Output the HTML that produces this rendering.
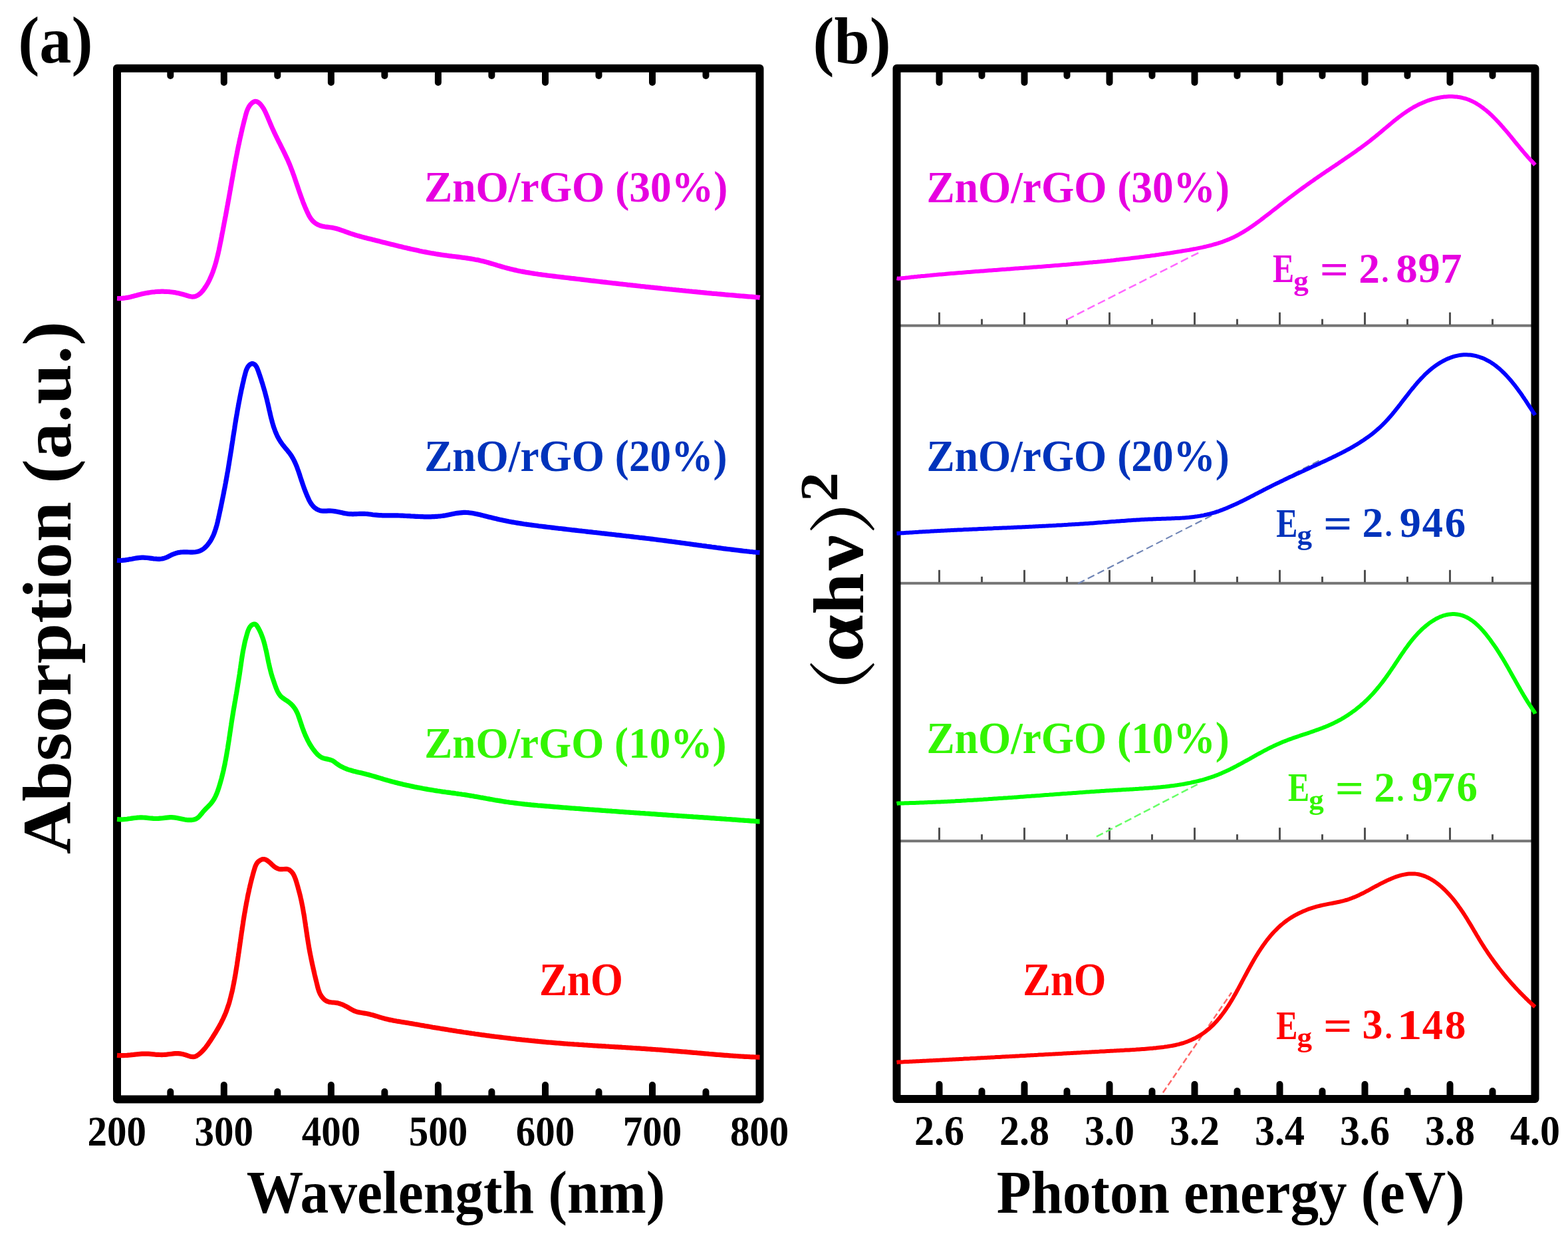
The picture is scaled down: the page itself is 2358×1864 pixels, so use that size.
<!DOCTYPE html>
<html><head><meta charset="utf-8"><style>html,body{margin:0;padding:0;background:#fff;width:2358px;height:1864px;overflow:hidden}svg{display:block;filter:blur(0.7px)}</style></head><body>
<svg xmlns="http://www.w3.org/2000/svg" width="2358" height="1864" viewBox="0 0 2358 1864" font-family='"Liberation Serif", "Times New Roman", serif' font-weight="bold">
<rect width="100%" height="100%" fill="#fff"/>
<line x1="1354" y1="489.6" x2="2303" y2="489.6" stroke="#747474" stroke-width="4"/>
<line x1="1412.5" y1="488.1" x2="1412.5" y2="469.6" stroke="#505050" stroke-width="3"/>
<line x1="1476.5" y1="488.1" x2="1476.5" y2="479.6" stroke="#505050" stroke-width="3"/>
<line x1="1540.5" y1="488.1" x2="1540.5" y2="469.6" stroke="#505050" stroke-width="3"/>
<line x1="1604.5" y1="488.1" x2="1604.5" y2="479.6" stroke="#505050" stroke-width="3"/>
<line x1="1668.5" y1="488.1" x2="1668.5" y2="469.6" stroke="#505050" stroke-width="3"/>
<line x1="1732.5" y1="488.1" x2="1732.5" y2="479.6" stroke="#505050" stroke-width="3"/>
<line x1="1796.5" y1="488.1" x2="1796.5" y2="469.6" stroke="#505050" stroke-width="3"/>
<line x1="1860.5" y1="488.1" x2="1860.5" y2="479.6" stroke="#505050" stroke-width="3"/>
<line x1="1924.5" y1="488.1" x2="1924.5" y2="469.6" stroke="#505050" stroke-width="3"/>
<line x1="1988.5" y1="488.1" x2="1988.5" y2="479.6" stroke="#505050" stroke-width="3"/>
<line x1="2052.5" y1="488.1" x2="2052.5" y2="469.6" stroke="#505050" stroke-width="3"/>
<line x1="2116.5" y1="488.1" x2="2116.5" y2="479.6" stroke="#505050" stroke-width="3"/>
<line x1="2180.5" y1="488.1" x2="2180.5" y2="469.6" stroke="#505050" stroke-width="3"/>
<line x1="2244.5" y1="488.1" x2="2244.5" y2="479.6" stroke="#505050" stroke-width="3"/>
<line x1="1354" y1="876.8" x2="2303" y2="876.8" stroke="#747474" stroke-width="4"/>
<line x1="1412.5" y1="875.3" x2="1412.5" y2="856.8" stroke="#505050" stroke-width="3"/>
<line x1="1476.5" y1="875.3" x2="1476.5" y2="866.8" stroke="#505050" stroke-width="3"/>
<line x1="1540.5" y1="875.3" x2="1540.5" y2="856.8" stroke="#505050" stroke-width="3"/>
<line x1="1604.5" y1="875.3" x2="1604.5" y2="866.8" stroke="#505050" stroke-width="3"/>
<line x1="1668.5" y1="875.3" x2="1668.5" y2="856.8" stroke="#505050" stroke-width="3"/>
<line x1="1732.5" y1="875.3" x2="1732.5" y2="866.8" stroke="#505050" stroke-width="3"/>
<line x1="1796.5" y1="875.3" x2="1796.5" y2="856.8" stroke="#505050" stroke-width="3"/>
<line x1="1860.5" y1="875.3" x2="1860.5" y2="866.8" stroke="#505050" stroke-width="3"/>
<line x1="1924.5" y1="875.3" x2="1924.5" y2="856.8" stroke="#505050" stroke-width="3"/>
<line x1="1988.5" y1="875.3" x2="1988.5" y2="866.8" stroke="#505050" stroke-width="3"/>
<line x1="2052.5" y1="875.3" x2="2052.5" y2="856.8" stroke="#505050" stroke-width="3"/>
<line x1="2116.5" y1="875.3" x2="2116.5" y2="866.8" stroke="#505050" stroke-width="3"/>
<line x1="2180.5" y1="875.3" x2="2180.5" y2="856.8" stroke="#505050" stroke-width="3"/>
<line x1="2244.5" y1="875.3" x2="2244.5" y2="866.8" stroke="#505050" stroke-width="3"/>
<line x1="1354" y1="1264.2" x2="2303" y2="1264.2" stroke="#747474" stroke-width="4"/>
<line x1="1412.5" y1="1262.7" x2="1412.5" y2="1244.2" stroke="#505050" stroke-width="3"/>
<line x1="1476.5" y1="1262.7" x2="1476.5" y2="1254.2" stroke="#505050" stroke-width="3"/>
<line x1="1540.5" y1="1262.7" x2="1540.5" y2="1244.2" stroke="#505050" stroke-width="3"/>
<line x1="1604.5" y1="1262.7" x2="1604.5" y2="1254.2" stroke="#505050" stroke-width="3"/>
<line x1="1668.5" y1="1262.7" x2="1668.5" y2="1244.2" stroke="#505050" stroke-width="3"/>
<line x1="1732.5" y1="1262.7" x2="1732.5" y2="1254.2" stroke="#505050" stroke-width="3"/>
<line x1="1796.5" y1="1262.7" x2="1796.5" y2="1244.2" stroke="#505050" stroke-width="3"/>
<line x1="1860.5" y1="1262.7" x2="1860.5" y2="1254.2" stroke="#505050" stroke-width="3"/>
<line x1="1924.5" y1="1262.7" x2="1924.5" y2="1244.2" stroke="#505050" stroke-width="3"/>
<line x1="1988.5" y1="1262.7" x2="1988.5" y2="1254.2" stroke="#505050" stroke-width="3"/>
<line x1="2052.5" y1="1262.7" x2="2052.5" y2="1244.2" stroke="#505050" stroke-width="3"/>
<line x1="2116.5" y1="1262.7" x2="2116.5" y2="1254.2" stroke="#505050" stroke-width="3"/>
<line x1="2180.5" y1="1262.7" x2="2180.5" y2="1244.2" stroke="#505050" stroke-width="3"/>
<line x1="2244.5" y1="1262.7" x2="2244.5" y2="1254.2" stroke="#505050" stroke-width="3"/>
<path d="M176,102.8 H1142.5 V1652.6 H176 Z" fill="none" stroke="#000" stroke-width="12" stroke-linejoin="round"/>
<path d="M1348.5,102.8 H2308.5 V1652 H1348.5 Z" fill="none" stroke="#000" stroke-width="12" stroke-linejoin="round"/>
<line x1="256.3" y1="105" x2="256.3" y2="114.0" stroke="#000" stroke-width="10" stroke-linecap="round"/>
<line x1="256.3" y1="1650" x2="256.3" y2="1641.0" stroke="#000" stroke-width="10" stroke-linecap="round"/>
<line x1="336.8" y1="105" x2="336.8" y2="124.0" stroke="#000" stroke-width="10" stroke-linecap="round"/>
<line x1="336.8" y1="1650" x2="336.8" y2="1631.0" stroke="#000" stroke-width="10" stroke-linecap="round"/>
<line x1="417.3" y1="105" x2="417.3" y2="114.0" stroke="#000" stroke-width="10" stroke-linecap="round"/>
<line x1="417.3" y1="1650" x2="417.3" y2="1641.0" stroke="#000" stroke-width="10" stroke-linecap="round"/>
<line x1="497.9" y1="105" x2="497.9" y2="124.0" stroke="#000" stroke-width="10" stroke-linecap="round"/>
<line x1="497.9" y1="1650" x2="497.9" y2="1631.0" stroke="#000" stroke-width="10" stroke-linecap="round"/>
<line x1="578.4" y1="105" x2="578.4" y2="114.0" stroke="#000" stroke-width="10" stroke-linecap="round"/>
<line x1="578.4" y1="1650" x2="578.4" y2="1641.0" stroke="#000" stroke-width="10" stroke-linecap="round"/>
<line x1="658.9" y1="105" x2="658.9" y2="124.0" stroke="#000" stroke-width="10" stroke-linecap="round"/>
<line x1="658.9" y1="1650" x2="658.9" y2="1631.0" stroke="#000" stroke-width="10" stroke-linecap="round"/>
<line x1="739.4" y1="105" x2="739.4" y2="114.0" stroke="#000" stroke-width="10" stroke-linecap="round"/>
<line x1="739.4" y1="1650" x2="739.4" y2="1641.0" stroke="#000" stroke-width="10" stroke-linecap="round"/>
<line x1="820.0" y1="105" x2="820.0" y2="124.0" stroke="#000" stroke-width="10" stroke-linecap="round"/>
<line x1="820.0" y1="1650" x2="820.0" y2="1631.0" stroke="#000" stroke-width="10" stroke-linecap="round"/>
<line x1="900.5" y1="105" x2="900.5" y2="114.0" stroke="#000" stroke-width="10" stroke-linecap="round"/>
<line x1="900.5" y1="1650" x2="900.5" y2="1641.0" stroke="#000" stroke-width="10" stroke-linecap="round"/>
<line x1="981.0" y1="105" x2="981.0" y2="124.0" stroke="#000" stroke-width="10" stroke-linecap="round"/>
<line x1="981.0" y1="1650" x2="981.0" y2="1631.0" stroke="#000" stroke-width="10" stroke-linecap="round"/>
<line x1="1061.5" y1="105" x2="1061.5" y2="114.0" stroke="#000" stroke-width="10" stroke-linecap="round"/>
<line x1="1061.5" y1="1650" x2="1061.5" y2="1641.0" stroke="#000" stroke-width="10" stroke-linecap="round"/>
<line x1="1412.5" y1="105" x2="1412.5" y2="124.0" stroke="#000" stroke-width="10" stroke-linecap="round"/>
<line x1="1412.5" y1="1649" x2="1412.5" y2="1630.0" stroke="#000" stroke-width="10" stroke-linecap="round"/>
<line x1="1476.5" y1="105" x2="1476.5" y2="114.0" stroke="#000" stroke-width="10" stroke-linecap="round"/>
<line x1="1476.5" y1="1649" x2="1476.5" y2="1640.0" stroke="#000" stroke-width="10" stroke-linecap="round"/>
<line x1="1540.5" y1="105" x2="1540.5" y2="124.0" stroke="#000" stroke-width="10" stroke-linecap="round"/>
<line x1="1540.5" y1="1649" x2="1540.5" y2="1630.0" stroke="#000" stroke-width="10" stroke-linecap="round"/>
<line x1="1604.5" y1="105" x2="1604.5" y2="114.0" stroke="#000" stroke-width="10" stroke-linecap="round"/>
<line x1="1604.5" y1="1649" x2="1604.5" y2="1640.0" stroke="#000" stroke-width="10" stroke-linecap="round"/>
<line x1="1668.5" y1="105" x2="1668.5" y2="124.0" stroke="#000" stroke-width="10" stroke-linecap="round"/>
<line x1="1668.5" y1="1649" x2="1668.5" y2="1630.0" stroke="#000" stroke-width="10" stroke-linecap="round"/>
<line x1="1732.5" y1="105" x2="1732.5" y2="114.0" stroke="#000" stroke-width="10" stroke-linecap="round"/>
<line x1="1732.5" y1="1649" x2="1732.5" y2="1640.0" stroke="#000" stroke-width="10" stroke-linecap="round"/>
<line x1="1796.5" y1="105" x2="1796.5" y2="124.0" stroke="#000" stroke-width="10" stroke-linecap="round"/>
<line x1="1796.5" y1="1649" x2="1796.5" y2="1630.0" stroke="#000" stroke-width="10" stroke-linecap="round"/>
<line x1="1860.5" y1="105" x2="1860.5" y2="114.0" stroke="#000" stroke-width="10" stroke-linecap="round"/>
<line x1="1860.5" y1="1649" x2="1860.5" y2="1640.0" stroke="#000" stroke-width="10" stroke-linecap="round"/>
<line x1="1924.5" y1="105" x2="1924.5" y2="124.0" stroke="#000" stroke-width="10" stroke-linecap="round"/>
<line x1="1924.5" y1="1649" x2="1924.5" y2="1630.0" stroke="#000" stroke-width="10" stroke-linecap="round"/>
<line x1="1988.5" y1="105" x2="1988.5" y2="114.0" stroke="#000" stroke-width="10" stroke-linecap="round"/>
<line x1="1988.5" y1="1649" x2="1988.5" y2="1640.0" stroke="#000" stroke-width="10" stroke-linecap="round"/>
<line x1="2052.5" y1="105" x2="2052.5" y2="124.0" stroke="#000" stroke-width="10" stroke-linecap="round"/>
<line x1="2052.5" y1="1649" x2="2052.5" y2="1630.0" stroke="#000" stroke-width="10" stroke-linecap="round"/>
<line x1="2116.5" y1="105" x2="2116.5" y2="114.0" stroke="#000" stroke-width="10" stroke-linecap="round"/>
<line x1="2116.5" y1="1649" x2="2116.5" y2="1640.0" stroke="#000" stroke-width="10" stroke-linecap="round"/>
<line x1="2180.5" y1="105" x2="2180.5" y2="124.0" stroke="#000" stroke-width="10" stroke-linecap="round"/>
<line x1="2180.5" y1="1649" x2="2180.5" y2="1630.0" stroke="#000" stroke-width="10" stroke-linecap="round"/>
<line x1="2244.5" y1="105" x2="2244.5" y2="114.0" stroke="#000" stroke-width="10" stroke-linecap="round"/>
<line x1="2244.5" y1="1649" x2="2244.5" y2="1640.0" stroke="#000" stroke-width="10" stroke-linecap="round"/>
<line x1="1604.2" y1="480.5" x2="1805" y2="378.6" stroke="#FF66FF" stroke-width="2.5" stroke-dasharray="12 5.5"/>
<line x1="1621.1" y1="877.3" x2="1986.5" y2="691.1" stroke="#6F84B5" stroke-width="2.2" stroke-dasharray="11 5.5"/>
<line x1="1648.9" y1="1257.7" x2="1805" y2="1176.8" stroke="#66FF66" stroke-width="2.5" stroke-dasharray="11 5"/>
<line x1="1748.9" y1="1642.5" x2="1852" y2="1492" stroke="#FF6666" stroke-width="2.5" stroke-dasharray="9 4.5"/>
<path d="M176.0,448.5 178.6,448.6 181.2,448.5 183.7,448.4 186.2,448.1 188.7,447.8 191.1,447.4 193.5,446.9 195.9,446.4 198.3,445.8 200.7,445.2 203.1,444.6 205.5,444.0 207.8,443.3 210.2,442.7 212.7,442.1 215.1,441.5 217.5,441.0 220.0,440.5 222.5,440.1 225.0,439.7 227.5,439.3 230.0,439.0 232.6,438.8 235.1,438.5 237.6,438.4 240.2,438.3 242.7,438.2 245.2,438.2 247.7,438.3 250.2,438.3 252.7,438.5 255.1,438.7 257.6,439.0 260.0,439.3 262.4,439.6 264.8,440.1 267.1,440.5 269.5,441.1 272.0,441.7 274.4,442.3 276.9,443.0 279.4,443.7 281.9,444.5 284.4,445.2 286.9,445.8 289.4,446.1 291.8,445.9 294.0,445.4 296.2,444.5 298.2,443.3 300.2,441.9 302.1,440.2 303.8,438.3 305.5,436.3 307.1,434.1 308.6,431.9 310.1,429.7 311.4,427.5 312.7,425.3 313.8,423.1 315.0,420.8 316.0,418.6 317.0,416.3 318.0,414.1 318.9,411.8 319.8,409.5 320.6,407.2 321.4,404.9 322.2,402.6 323.0,400.2 323.7,397.8 324.4,395.4 325.1,393.0 325.7,390.6 326.3,388.2 326.9,385.8 327.5,383.3 328.1,380.9 328.6,378.5 329.2,376.0 329.7,373.5 330.2,371.1 330.7,368.6 331.2,366.1 331.7,363.7 332.2,361.2 332.7,358.7 333.2,356.2 333.6,353.8 334.1,351.3 334.6,348.9 335.1,346.4 335.5,344.0 336.0,341.5 336.5,339.0 336.9,336.6 337.4,334.1 337.9,331.7 338.3,329.2 338.8,326.8 339.3,324.4 339.7,321.9 340.2,319.5 340.6,317.0 341.1,314.6 341.5,312.1 342.0,309.7 342.4,307.2 342.9,304.8 343.3,302.3 343.8,299.8 344.2,297.4 344.6,294.9 345.1,292.5 345.5,290.0 345.9,287.6 346.4,285.1 346.8,282.6 347.2,280.2 347.7,277.7 348.1,275.3 348.5,272.8 349.0,270.3 349.4,267.9 349.9,265.4 350.3,262.9 350.7,260.5 351.2,258.0 351.6,255.6 352.1,253.1 352.5,250.6 353.0,248.2 353.4,245.7 353.9,243.3 354.4,240.8 354.8,238.3 355.3,235.9 355.8,233.4 356.3,231.0 356.8,228.5 357.2,226.1 357.7,223.6 358.2,221.2 358.7,218.7 359.3,216.3 359.8,213.8 360.3,211.4 360.8,208.9 361.4,206.5 361.9,204.1 362.5,201.6 363.0,199.2 363.6,196.8 364.1,194.3 364.7,191.9 365.3,189.5 365.9,187.1 366.5,184.7 367.1,182.2 367.7,179.8 368.4,177.4 369.0,175.0 369.6,172.6 370.3,170.2 371.0,167.8 371.9,165.4 372.9,163.1 374.1,160.8 375.5,158.6 377.2,156.5 379.2,154.6 381.3,153.2 383.5,152.4 385.7,152.5 387.8,153.5 389.9,155.0 391.8,156.9 393.5,159.0 395.0,161.2 396.4,163.3 397.6,165.5 398.7,167.7 399.8,170.0 400.8,172.2 401.8,174.5 402.8,176.8 403.7,179.1 404.7,181.4 405.7,183.7 406.6,186.0 407.6,188.3 408.6,190.6 409.6,192.9 410.6,195.1 411.7,197.4 412.7,199.7 413.8,201.9 414.9,204.2 416.0,206.4 417.1,208.7 418.2,210.9 419.3,213.2 420.5,215.4 421.6,217.6 422.7,219.9 423.8,222.1 425.0,224.4 426.1,226.6 427.2,228.8 428.3,231.1 429.3,233.3 430.4,235.6 431.5,237.9 432.5,240.1 433.5,242.4 434.5,244.7 435.5,247.0 436.4,249.3 437.3,251.6 438.2,254.0 439.1,256.3 440.0,258.6 440.8,261.0 441.7,263.3 442.5,265.7 443.3,268.0 444.1,270.4 444.9,272.7 445.7,275.1 446.5,277.5 447.3,279.8 448.1,282.2 448.9,284.6 449.7,286.9 450.5,289.3 451.4,291.7 452.2,294.0 453.0,296.4 453.9,298.7 454.8,301.1 455.6,303.4 456.5,305.8 457.5,308.1 458.4,310.4 459.4,312.7 460.4,315.0 461.4,317.3 462.5,319.6 463.6,321.9 464.7,324.2 466.0,326.3 467.3,328.4 468.8,330.4 470.4,332.3 472.2,333.9 474.2,335.5 476.4,336.8 478.6,338.0 481.0,339.0 483.4,339.7 485.8,340.3 488.3,340.8 490.8,341.1 493.2,341.4 495.7,341.7 498.2,342.0 500.7,342.4 503.1,342.9 505.5,343.5 507.9,344.2 510.3,345.0 512.7,345.8 515.0,346.6 517.4,347.4 519.7,348.3 522.1,349.2 524.4,350.0 526.8,350.9 529.2,351.6 531.6,352.4 534.0,353.2 536.4,353.9 538.8,354.6 541.2,355.2 543.6,355.9 546.0,356.6 548.4,357.2 550.8,357.8 553.2,358.4 555.7,359.0 558.1,359.6 560.5,360.2 562.9,360.8 565.4,361.4 567.8,362.0 570.2,362.6 572.6,363.3 575.1,363.9 577.5,364.5 579.9,365.1 582.3,365.7 584.8,366.3 587.2,366.9 589.6,367.5 592.0,368.1 594.5,368.7 596.9,369.3 599.3,369.9 601.8,370.5 604.2,371.1 606.6,371.7 609.0,372.2 611.5,372.8 613.9,373.4 616.4,373.9 618.8,374.5 621.2,375.0 623.7,375.6 626.1,376.1 628.5,376.6 631.0,377.2 633.4,377.7 635.9,378.2 638.3,378.6 640.8,379.1 643.2,379.6 645.7,380.0 648.1,380.5 650.6,380.9 653.1,381.3 655.5,381.8 658.0,382.1 660.5,382.5 662.9,382.9 665.4,383.2 667.9,383.6 670.4,383.9 672.8,384.2 675.3,384.6 677.8,384.9 680.3,385.2 682.8,385.5 685.2,385.8 687.7,386.1 690.2,386.4 692.7,386.7 695.2,387.1 697.6,387.4 700.1,387.7 702.6,388.1 705.0,388.5 707.5,388.9 710.0,389.3 712.4,389.7 714.9,390.2 717.3,390.6 719.7,391.1 722.2,391.7 724.6,392.2 727.0,392.8 729.5,393.4 731.9,394.1 734.3,394.8 736.7,395.5 739.1,396.2 741.5,396.9 743.9,397.6 746.3,398.3 748.7,399.1 751.1,399.8 753.5,400.5 755.9,401.2 758.3,401.9 760.7,402.6 763.1,403.2 765.5,403.8 768.0,404.4 770.4,405.0 772.8,405.6 775.3,406.1 777.7,406.7 780.1,407.2 782.6,407.7 785.0,408.1 787.5,408.6 789.9,409.1 792.4,409.5 794.9,409.9 797.3,410.3 799.8,410.7 802.3,411.1 804.7,411.5 807.2,411.8 809.7,412.2 812.1,412.5 814.6,412.9 817.1,413.2 819.6,413.5 822.1,413.9 824.5,414.2 827.0,414.5 829.5,414.8 832.0,415.1 834.5,415.4 837.0,415.7 839.4,416.0 841.9,416.3 844.4,416.6 846.9,416.9 849.4,417.2 851.9,417.5 854.4,417.8 856.8,418.1 859.3,418.4 861.8,418.6 864.3,418.9 866.8,419.2 869.3,419.5 871.7,419.8 874.2,420.1 876.7,420.4 879.2,420.7 881.7,421.0 884.2,421.3 886.6,421.6 889.1,421.9 891.6,422.1 894.1,422.4 896.6,422.7 899.1,423.0 901.5,423.3 904.0,423.6 906.5,423.9 909.0,424.1 911.5,424.4 913.9,424.7 916.4,425.0 918.9,425.3 921.4,425.6 923.9,425.8 926.4,426.1 928.8,426.4 931.3,426.7 933.8,427.0 936.3,427.2 938.8,427.5 941.3,427.8 943.7,428.1 946.2,428.3 948.7,428.6 951.2,428.9 953.7,429.2 956.2,429.4 958.6,429.7 961.1,430.0 963.6,430.3 966.1,430.5 968.6,430.8 971.1,431.1 973.5,431.3 976.0,431.6 978.5,431.9 981.0,432.1 983.5,432.4 986.0,432.7 988.4,432.9 990.9,433.2 993.4,433.4 995.9,433.7 998.4,434.0 1000.9,434.2 1003.4,434.5 1005.8,434.7 1008.3,435.0 1010.8,435.2 1013.3,435.5 1015.8,435.7 1018.3,436.0 1020.8,436.2 1023.2,436.5 1025.7,436.7 1028.2,437.0 1030.7,437.2 1033.2,437.5 1035.7,437.7 1038.2,438.0 1040.6,438.2 1043.1,438.5 1045.6,438.7 1048.1,438.9 1050.6,439.2 1053.1,439.4 1055.6,439.7 1058.0,439.9 1060.5,440.1 1063.0,440.4 1065.5,440.6 1068.0,440.8 1070.5,441.1 1073.0,441.3 1075.5,441.5 1078.0,441.7 1080.4,442.0 1082.9,442.2 1085.4,442.4 1087.9,442.6 1090.4,442.9 1092.9,443.1 1095.4,443.3 1097.9,443.5 1100.4,443.7 1102.9,443.9 1105.3,444.1 1107.8,444.4 1110.3,444.6 1112.8,444.8 1115.3,445.0 1117.8,445.2 1120.3,445.4 1122.8,445.6 1125.3,445.8 1127.8,446.0 1130.3,446.2 1132.8,446.4 1135.2,446.6 1137.7,446.8 1140.2,447.0 1142.7,447.4" fill="none" stroke="#FF00FF" stroke-width="7.2" stroke-linejoin="round"/>
<path d="M176.0,842.3 178.5,842.5 181.0,842.5 183.5,842.4 186.0,842.2 188.5,841.9 191.0,841.5 193.5,841.1 195.9,840.6 198.4,840.2 200.8,839.7 203.3,839.3 205.8,838.9 208.2,838.6 210.7,838.3 213.2,838.2 215.7,838.2 218.2,838.3 220.7,838.5 223.2,838.8 225.7,839.1 228.2,839.4 230.7,839.8 233.2,840.0 235.7,840.2 238.2,840.3 240.6,840.3 243.0,840.0 245.4,839.6 247.8,838.9 250.2,838.0 252.5,836.9 254.8,835.8 257.1,834.6 259.4,833.5 261.7,832.6 264.0,831.8 266.4,831.1 268.7,830.6 271.2,830.2 273.6,830.0 276.2,829.9 278.7,829.9 281.3,829.9 283.9,830.0 286.6,830.1 289.1,830.1 291.7,830.0 294.2,829.7 296.6,829.3 299.0,828.7 301.2,827.9 303.3,826.8 305.4,825.5 307.3,824.0 309.2,822.3 310.9,820.5 312.5,818.6 314.1,816.6 315.5,814.5 316.9,812.4 318.1,810.2 319.3,807.9 320.4,805.7 321.4,803.4 322.3,801.1 323.1,798.8 323.9,796.4 324.7,794.0 325.4,791.6 326.1,789.2 326.7,786.8 327.3,784.3 327.8,781.9 328.4,779.5 328.9,777.0 329.5,774.6 330.0,772.1 330.5,769.7 331.1,767.2 331.6,764.8 332.1,762.3 332.6,759.9 333.1,757.4 333.6,755.0 334.1,752.5 334.6,750.1 335.1,747.6 335.6,745.2 336.1,742.7 336.6,740.3 337.0,737.8 337.5,735.4 338.0,733.0 338.5,730.5 338.9,728.1 339.4,725.6 339.8,723.2 340.3,720.7 340.7,718.2 341.2,715.8 341.6,713.3 342.0,710.9 342.5,708.4 342.9,706.0 343.3,703.5 343.7,701.0 344.1,698.6 344.5,696.1 344.9,693.6 345.3,691.2 345.7,688.7 346.1,686.2 346.5,683.8 346.9,681.3 347.3,678.8 347.7,676.4 348.1,673.9 348.4,671.4 348.8,668.9 349.2,666.5 349.6,664.0 350.0,661.5 350.3,659.1 350.7,656.6 351.1,654.1 351.5,651.6 351.9,649.2 352.3,646.7 352.7,644.2 353.0,641.8 353.4,639.3 353.8,636.8 354.2,634.4 354.6,631.9 355.0,629.4 355.4,627.0 355.9,624.5 356.3,622.1 356.7,619.6 357.1,617.2 357.5,614.7 358.0,612.2 358.4,609.8 358.9,607.3 359.3,604.9 359.8,602.5 360.3,600.0 360.7,597.6 361.2,595.1 361.7,592.7 362.2,590.2 362.7,587.8 363.2,585.3 363.8,582.9 364.3,580.5 364.8,578.0 365.4,575.6 366.0,573.1 366.5,570.7 367.1,568.2 367.7,565.8 368.4,563.3 369.0,560.9 369.7,558.4 370.5,556.0 371.5,553.7 372.7,551.5 374.3,549.4 376.2,547.7 378.3,546.7 380.5,546.7 382.6,547.7 384.4,549.4 385.8,551.5 386.9,553.8 387.8,556.2 388.7,558.6 389.5,561.1 390.4,563.5 391.2,565.9 392.0,568.3 392.8,570.7 393.5,573.1 394.3,575.5 395.0,577.8 395.7,580.2 396.4,582.6 397.1,585.0 397.8,587.3 398.5,589.7 399.1,592.1 399.7,594.5 400.4,596.9 401.0,599.3 401.6,601.7 402.1,604.1 402.7,606.5 403.3,608.9 403.8,611.4 404.4,613.8 404.9,616.3 405.5,618.7 406.1,621.2 406.6,623.7 407.2,626.1 407.8,628.6 408.5,631.0 409.1,633.5 409.8,635.9 410.5,638.3 411.2,640.7 412.0,643.0 412.9,645.4 413.7,647.7 414.6,650.0 415.6,652.3 416.6,654.6 417.7,656.8 418.9,659.0 420.1,661.1 421.4,663.2 422.8,665.3 424.2,667.3 425.7,669.3 427.3,671.3 428.9,673.2 430.5,675.2 432.2,677.1 433.7,679.1 435.3,681.0 436.8,683.1 438.2,685.1 439.5,687.3 440.7,689.4 441.9,691.6 443.0,693.9 444.0,696.1 445.0,698.4 446.0,700.7 446.9,703.1 447.7,705.4 448.6,707.8 449.4,710.1 450.2,712.5 451.0,714.9 451.7,717.3 452.5,719.6 453.3,722.0 454.1,724.4 454.9,726.7 455.7,729.1 456.5,731.4 457.3,733.8 458.2,736.1 459.1,738.4 460.0,740.8 461.0,743.1 461.9,745.4 463.0,747.7 464.0,750.1 465.1,752.4 466.3,754.6 467.6,756.7 469.1,758.8 470.7,760.7 472.4,762.5 474.4,764.1 476.5,765.5 478.8,766.6 481.1,767.4 483.6,768.0 486.0,768.2 488.5,768.2 491.0,768.1 493.6,767.9 496.1,767.9 498.6,768.0 501.1,768.3 503.5,768.6 506.0,769.0 508.5,769.5 510.9,770.0 513.4,770.5 515.8,771.1 518.3,771.6 520.7,772.0 523.2,772.4 525.7,772.6 528.1,772.7 530.6,772.8 533.1,772.7 535.6,772.7 538.1,772.5 540.6,772.4 543.1,772.4 545.6,772.3 548.1,772.4 550.6,772.5 553.1,772.7 555.6,773.0 558.1,773.3 560.5,773.7 563.0,774.0 565.5,774.2 568.0,774.4 570.5,774.6 573.0,774.7 575.4,774.8 577.9,774.8 580.4,774.8 582.9,774.8 585.4,774.8 587.9,774.8 590.4,774.8 592.9,774.8 595.4,774.9 597.9,774.9 600.4,775.0 602.9,775.1 605.4,775.2 607.9,775.3 610.4,775.5 612.9,775.6 615.4,775.7 617.9,775.9 620.4,776.0 622.9,776.1 625.4,776.3 627.9,776.4 630.4,776.5 632.9,776.6 635.4,776.7 637.9,776.8 640.4,776.8 642.8,776.8 645.3,776.8 647.8,776.8 650.3,776.7 652.8,776.6 655.3,776.4 657.8,776.3 660.2,776.0 662.7,775.8 665.2,775.5 667.7,775.1 670.1,774.7 672.6,774.2 675.1,773.8 677.6,773.3 680.0,772.8 682.5,772.3 685.0,771.8 687.4,771.4 689.9,771.1 692.4,770.8 694.9,770.6 697.3,770.4 699.8,770.4 702.3,770.5 704.8,770.7 707.2,771.0 709.7,771.3 712.2,771.7 714.6,772.2 717.1,772.7 719.6,773.3 722.0,773.8 724.5,774.4 726.9,775.1 729.4,775.7 731.8,776.3 734.2,776.9 736.6,777.5 739.1,778.1 741.5,778.7 743.9,779.3 746.3,779.8 748.7,780.4 751.2,781.0 753.6,781.5 756.0,782.0 758.4,782.5 760.9,783.0 763.3,783.5 765.7,784.0 768.2,784.4 770.6,784.9 773.1,785.3 775.6,785.7 778.0,786.1 780.5,786.5 782.9,786.9 785.4,787.3 787.9,787.7 790.4,788.0 792.8,788.4 795.3,788.7 797.8,789.0 800.3,789.4 802.8,789.7 805.2,790.0 807.7,790.3 810.2,790.7 812.7,791.0 815.2,791.3 817.7,791.6 820.1,791.9 822.6,792.2 825.1,792.5 827.6,792.8 830.1,793.1 832.6,793.4 835.0,793.7 837.5,794.0 840.0,794.3 842.5,794.5 845.0,794.8 847.5,795.1 849.9,795.4 852.4,795.7 854.9,796.0 857.4,796.3 859.9,796.6 862.4,796.8 864.8,797.1 867.3,797.4 869.8,797.7 872.3,798.0 874.8,798.2 877.3,798.5 879.7,798.8 882.2,799.1 884.7,799.4 887.2,799.6 889.7,799.9 892.1,800.2 894.6,800.5 897.1,800.7 899.6,801.0 902.1,801.3 904.5,801.6 907.0,801.8 909.5,802.1 912.0,802.4 914.5,802.7 916.9,803.0 919.4,803.2 921.9,803.5 924.4,803.8 926.9,804.1 929.4,804.3 931.8,804.6 934.3,804.9 936.8,805.2 939.3,805.5 941.7,805.8 944.2,806.0 946.7,806.3 949.2,806.6 951.7,806.9 954.1,807.2 956.6,807.5 959.1,807.8 961.6,808.1 964.1,808.3 966.5,808.6 969.0,808.9 971.5,809.2 974.0,809.5 976.5,809.8 978.9,810.1 981.4,810.4 983.9,810.7 986.4,811.0 988.8,811.4 991.3,811.7 993.8,812.0 996.3,812.3 998.8,812.6 1001.2,812.9 1003.7,813.2 1006.2,813.6 1008.7,813.9 1011.1,814.2 1013.6,814.5 1016.1,814.9 1018.6,815.2 1021.0,815.5 1023.5,815.9 1026.0,816.2 1028.5,816.5 1030.9,816.9 1033.4,817.2 1035.9,817.5 1038.4,817.9 1040.9,818.2 1043.3,818.6 1045.8,818.9 1048.3,819.2 1050.8,819.6 1053.2,819.9 1055.7,820.3 1058.2,820.6 1060.7,820.9 1063.1,821.3 1065.6,821.6 1068.1,821.9 1070.6,822.3 1073.1,822.6 1075.5,822.9 1078.0,823.3 1080.5,823.6 1083.0,823.9 1085.4,824.2 1087.9,824.6 1090.4,824.9 1092.9,825.2 1095.4,825.5 1097.8,825.8 1100.3,826.1 1102.8,826.4 1105.3,826.7 1107.7,827.0 1110.2,827.3 1112.7,827.6 1115.2,827.9 1117.7,828.2 1120.1,828.5 1122.6,828.7 1125.1,829.0 1127.6,829.3 1130.1,829.5 1132.6,829.8 1135.0,830.0 1137.5,830.3 1140.0,830.5 1142.5,830.7" fill="none" stroke="#0000FF" stroke-width="7.2" stroke-linejoin="round"/>
<path d="M176.0,1231.5 178.5,1231.7 181.0,1231.8 183.5,1231.8 186.0,1231.7 188.5,1231.5 191.0,1231.2 193.5,1230.8 195.9,1230.5 198.4,1230.1 200.9,1229.8 203.4,1229.5 205.9,1229.2 208.4,1229.0 210.9,1228.9 213.3,1228.9 215.8,1229.0 218.3,1229.2 220.8,1229.4 223.3,1229.7 225.8,1230.0 228.3,1230.2 230.8,1230.4 233.3,1230.5 235.8,1230.5 238.3,1230.4 240.8,1230.2 243.3,1230.0 245.8,1229.7 248.3,1229.4 250.8,1229.1 253.3,1228.9 255.8,1228.7 258.2,1228.7 260.7,1228.8 263.2,1229.1 265.6,1229.5 268.1,1230.0 270.5,1230.5 273.0,1231.0 275.4,1231.5 277.9,1232.0 280.4,1232.4 282.9,1232.6 285.4,1232.7 287.9,1232.6 290.4,1232.3 292.8,1231.7 295.1,1230.8 297.1,1229.5 299.0,1227.9 300.7,1226.1 302.3,1224.1 304.0,1222.1 305.6,1220.1 307.3,1218.2 309.1,1216.3 310.8,1214.5 312.6,1212.7 314.4,1210.9 316.1,1209.1 317.7,1207.2 319.2,1205.3 320.6,1203.2 321.9,1201.2 323.1,1199.0 324.2,1196.8 325.2,1194.5 326.2,1192.2 327.1,1189.8 327.9,1187.5 328.7,1185.1 329.5,1182.7 330.2,1180.3 330.9,1177.9 331.6,1175.5 332.3,1173.1 333.0,1170.6 333.6,1168.2 334.2,1165.8 334.8,1163.4 335.4,1161.0 336.0,1158.5 336.5,1156.1 337.0,1153.7 337.6,1151.2 338.1,1148.8 338.5,1146.4 339.0,1143.9 339.5,1141.5 339.9,1139.0 340.4,1136.6 340.8,1134.1 341.2,1131.7 341.6,1129.2 342.1,1126.8 342.5,1124.3 342.8,1121.8 343.2,1119.4 343.6,1116.9 344.0,1114.4 344.4,1112.0 344.7,1109.5 345.1,1107.0 345.5,1104.6 345.8,1102.1 346.2,1099.6 346.6,1097.2 346.9,1094.7 347.3,1092.2 347.7,1089.7 348.0,1087.3 348.4,1084.8 348.8,1082.3 349.2,1079.8 349.6,1077.4 350.0,1074.9 350.4,1072.4 350.8,1069.9 351.2,1067.4 351.6,1065.0 352.1,1062.5 352.5,1060.0 352.9,1057.5 353.3,1055.1 353.8,1052.6 354.2,1050.1 354.6,1047.7 355.0,1045.2 355.5,1042.7 355.9,1040.3 356.3,1037.8 356.7,1035.3 357.1,1032.9 357.5,1030.4 357.9,1027.9 358.3,1025.5 358.7,1023.0 359.1,1020.6 359.5,1018.1 359.9,1015.7 360.3,1013.2 360.6,1010.8 361.0,1008.4 361.3,1005.9 361.7,1003.5 362.0,1001.1 362.4,998.6 362.7,996.2 363.1,993.7 363.4,991.3 363.8,988.9 364.2,986.4 364.6,984.0 365.0,981.5 365.4,979.1 365.9,976.6 366.4,974.1 366.9,971.7 367.4,969.2 367.9,966.7 368.5,964.2 369.1,961.7 369.8,959.2 370.5,956.6 371.2,954.1 371.9,951.6 372.7,949.0 373.7,946.5 374.8,944.2 376.1,942.1 377.7,940.3 379.7,938.9 381.9,938.1 384.0,938.4 385.6,939.6 387.0,941.6 388.3,943.8 389.5,946.0 390.6,948.2 391.7,950.5 392.7,952.8 393.6,955.1 394.5,957.5 395.3,959.8 396.1,962.2 396.8,964.6 397.5,967.0 398.1,969.5 398.8,971.9 399.3,974.3 399.9,976.8 400.5,979.2 401.0,981.7 401.5,984.2 402.0,986.6 402.5,989.1 403.0,991.6 403.5,994.0 404.0,996.5 404.6,998.9 405.1,1001.4 405.7,1003.8 406.3,1006.2 406.9,1008.6 407.5,1011.0 408.2,1013.4 408.9,1015.7 409.6,1018.1 410.4,1020.4 411.2,1022.8 412.0,1025.2 412.8,1027.6 413.6,1029.9 414.5,1032.4 415.4,1034.7 416.4,1037.1 417.4,1039.4 418.6,1041.6 419.9,1043.7 421.4,1045.7 423.1,1047.4 425.0,1049.0 427.1,1050.5 429.2,1051.9 431.3,1053.3 433.4,1054.7 435.4,1056.3 437.3,1057.9 439.1,1059.7 440.7,1061.5 442.3,1063.5 443.7,1065.5 445.0,1067.6 446.1,1069.8 447.2,1072.0 448.1,1074.3 449.0,1076.7 449.8,1079.0 450.6,1081.4 451.4,1083.8 452.2,1086.2 453.0,1088.6 453.8,1091.0 454.6,1093.4 455.5,1095.8 456.3,1098.1 457.2,1100.5 458.2,1102.8 459.1,1105.1 460.2,1107.4 461.2,1109.6 462.3,1111.9 463.4,1114.1 464.6,1116.3 465.8,1118.5 467.1,1120.6 468.5,1122.7 469.9,1124.8 471.3,1126.8 472.9,1128.8 474.5,1130.8 476.2,1132.7 477.9,1134.5 479.8,1136.1 481.8,1137.5 484.0,1138.8 486.2,1139.7 488.6,1140.4 491.1,1140.9 493.6,1141.4 496.1,1142.0 498.5,1142.8 500.7,1143.8 502.8,1145.2 504.9,1146.8 506.9,1148.3 509.0,1149.8 511.1,1151.1 513.3,1152.3 515.5,1153.4 517.7,1154.5 520.0,1155.4 522.3,1156.3 524.6,1157.1 527.0,1157.8 529.4,1158.5 531.8,1159.2 534.2,1159.8 536.7,1160.4 539.1,1161.0 541.6,1161.5 544.0,1162.1 546.5,1162.7 548.9,1163.3 551.3,1163.9 553.7,1164.5 556.2,1165.2 558.6,1165.9 561.0,1166.6 563.4,1167.3 565.7,1168.0 568.1,1168.7 570.5,1169.4 572.9,1170.1 575.3,1170.8 577.7,1171.6 580.1,1172.3 582.5,1172.9 584.9,1173.6 587.3,1174.3 589.7,1174.9 592.1,1175.6 594.5,1176.2 596.9,1176.8 599.3,1177.4 601.8,1178.0 604.2,1178.6 606.6,1179.2 609.1,1179.7 611.5,1180.3 613.9,1180.8 616.4,1181.3 618.8,1181.9 621.3,1182.4 623.7,1182.9 626.2,1183.4 628.6,1183.9 631.1,1184.3 633.5,1184.8 636.0,1185.3 638.4,1185.7 640.9,1186.1 643.4,1186.6 645.8,1187.0 648.3,1187.4 650.8,1187.8 653.2,1188.2 655.7,1188.6 658.2,1189.0 660.6,1189.3 663.1,1189.7 665.6,1190.1 668.1,1190.4 670.5,1190.8 673.0,1191.1 675.5,1191.4 677.9,1191.8 680.4,1192.1 682.9,1192.4 685.4,1192.8 687.8,1193.1 690.3,1193.5 692.8,1193.8 695.2,1194.2 697.7,1194.5 700.2,1194.9 702.6,1195.3 705.1,1195.7 707.5,1196.1 710.0,1196.5 712.5,1196.9 714.9,1197.4 717.4,1197.8 719.9,1198.2 722.3,1198.7 724.8,1199.1 727.2,1199.6 729.7,1200.0 732.1,1200.5 734.6,1200.9 737.1,1201.4 739.5,1201.8 742.0,1202.2 744.4,1202.7 746.9,1203.1 749.4,1203.5 751.8,1203.9 754.3,1204.3 756.8,1204.7 759.2,1205.1 761.7,1205.5 764.2,1205.8 766.6,1206.2 769.1,1206.5 771.6,1206.8 774.1,1207.1 776.5,1207.4 779.0,1207.7 781.5,1208.0 784.0,1208.3 786.5,1208.6 788.9,1208.9 791.4,1209.1 793.9,1209.4 796.4,1209.6 798.9,1209.9 801.4,1210.1 803.8,1210.3 806.3,1210.5 808.8,1210.8 811.3,1211.0 813.8,1211.2 816.3,1211.4 818.8,1211.6 821.3,1211.8 823.7,1212.0 826.2,1212.2 828.7,1212.4 831.2,1212.6 833.7,1212.8 836.2,1213.0 838.7,1213.2 841.2,1213.4 843.7,1213.6 846.1,1213.8 848.6,1214.0 851.1,1214.2 853.6,1214.4 856.1,1214.6 858.6,1214.8 861.1,1215.0 863.6,1215.1 866.1,1215.3 868.6,1215.5 871.0,1215.7 873.5,1215.9 876.0,1216.1 878.5,1216.3 881.0,1216.5 883.5,1216.6 886.0,1216.8 888.5,1217.0 891.0,1217.2 893.5,1217.4 895.9,1217.6 898.4,1217.7 900.9,1217.9 903.4,1218.1 905.9,1218.3 908.4,1218.5 910.9,1218.7 913.4,1218.8 915.9,1219.0 918.4,1219.2 920.8,1219.4 923.3,1219.5 925.8,1219.7 928.3,1219.9 930.8,1220.1 933.3,1220.3 935.8,1220.4 938.3,1220.6 940.8,1220.8 943.3,1221.0 945.7,1221.1 948.2,1221.3 950.7,1221.5 953.2,1221.7 955.7,1221.8 958.2,1222.0 960.7,1222.2 963.2,1222.4 965.7,1222.5 968.2,1222.7 970.7,1222.9 973.1,1223.0 975.6,1223.2 978.1,1223.4 980.6,1223.6 983.1,1223.7 985.6,1223.9 988.1,1224.1 990.6,1224.3 993.1,1224.4 995.6,1224.6 998.0,1224.8 1000.5,1224.9 1003.0,1225.1 1005.5,1225.3 1008.0,1225.5 1010.5,1225.6 1013.0,1225.8 1015.5,1226.0 1018.0,1226.1 1020.5,1226.3 1023.0,1226.5 1025.4,1226.7 1027.9,1226.8 1030.4,1227.0 1032.9,1227.2 1035.4,1227.3 1037.9,1227.5 1040.4,1227.7 1042.9,1227.9 1045.4,1228.0 1047.9,1228.2 1050.3,1228.4 1052.8,1228.6 1055.3,1228.7 1057.8,1228.9 1060.3,1229.1 1062.8,1229.2 1065.3,1229.4 1067.8,1229.6 1070.3,1229.8 1072.8,1229.9 1075.3,1230.1 1077.7,1230.3 1080.2,1230.5 1082.7,1230.6 1085.2,1230.8 1087.7,1231.0 1090.2,1231.2 1092.7,1231.4 1095.2,1231.5 1097.7,1231.7 1100.2,1231.9 1102.6,1232.1 1105.1,1232.2 1107.6,1232.4 1110.1,1232.6 1112.6,1232.8 1115.1,1233.0 1117.6,1233.1 1120.1,1233.3 1122.6,1233.5 1125.1,1233.7 1127.5,1233.9 1130.0,1234.1 1132.5,1234.2 1135.0,1234.4 1137.5,1234.6 1140.0,1234.8 1142.5,1234.8" fill="none" stroke="#00FF00" stroke-width="7.2" stroke-linejoin="round"/>
<path d="M176.0,1586.4 178.5,1586.6 181.0,1586.7 183.5,1586.7 186.0,1586.7 188.5,1586.5 191.0,1586.4 193.5,1586.1 196.0,1585.9 198.5,1585.6 200.9,1585.4 203.4,1585.1 205.9,1584.8 208.4,1584.6 210.9,1584.4 213.4,1584.2 215.9,1584.1 218.4,1584.1 220.8,1584.1 223.3,1584.2 225.8,1584.4 228.3,1584.6 230.8,1584.8 233.3,1585.1 235.8,1585.3 238.3,1585.4 240.8,1585.5 243.3,1585.6 245.8,1585.5 248.3,1585.3 250.8,1585.1 253.3,1584.8 255.8,1584.5 258.3,1584.2 260.8,1583.9 263.2,1583.7 265.7,1583.7 268.1,1583.7 270.6,1583.9 273.0,1584.3 275.4,1584.8 277.9,1585.4 280.4,1586.2 283.0,1587.1 285.5,1587.9 288.0,1588.5 290.5,1588.7 292.8,1588.4 295.0,1587.6 297.1,1586.3 299.1,1584.8 301.0,1583.2 302.8,1581.6 304.6,1579.8 306.2,1578.0 307.9,1576.1 309.5,1574.2 311.0,1572.2 312.5,1570.2 313.9,1568.1 315.3,1566.0 316.7,1563.9 318.1,1561.8 319.5,1559.6 320.8,1557.5 322.1,1555.4 323.5,1553.2 324.8,1551.1 326.0,1549.0 327.3,1546.8 328.6,1544.7 329.8,1542.5 331.0,1540.3 332.2,1538.1 333.3,1535.9 334.4,1533.7 335.5,1531.5 336.5,1529.3 337.5,1527.0 338.5,1524.7 339.5,1522.4 340.4,1520.1 341.2,1517.8 342.0,1515.4 342.8,1513.0 343.6,1510.7 344.4,1508.3 345.1,1505.9 345.7,1503.5 346.4,1501.0 347.0,1498.6 347.6,1496.2 348.2,1493.7 348.8,1491.3 349.4,1488.8 349.9,1486.4 350.4,1483.9 350.9,1481.5 351.4,1479.0 351.9,1476.5 352.3,1474.1 352.8,1471.6 353.2,1469.2 353.7,1466.7 354.1,1464.2 354.5,1461.8 354.9,1459.3 355.3,1456.9 355.7,1454.4 356.1,1452.0 356.5,1449.5 356.8,1447.1 357.2,1444.6 357.6,1442.1 357.9,1439.7 358.3,1437.2 358.6,1434.7 359.0,1432.3 359.4,1429.8 359.7,1427.3 360.1,1424.9 360.4,1422.4 360.8,1419.9 361.1,1417.5 361.5,1415.0 361.8,1412.5 362.2,1410.1 362.5,1407.6 362.9,1405.1 363.2,1402.6 363.6,1400.2 364.0,1397.7 364.3,1395.2 364.7,1392.8 365.1,1390.3 365.5,1387.8 365.8,1385.4 366.2,1382.9 366.6,1380.4 367.0,1377.9 367.4,1375.5 367.8,1373.0 368.3,1370.6 368.7,1368.1 369.1,1365.6 369.5,1363.2 370.0,1360.7 370.4,1358.3 370.9,1355.8 371.4,1353.4 371.9,1350.9 372.3,1348.5 372.8,1346.0 373.3,1343.6 373.9,1341.1 374.4,1338.7 374.9,1336.2 375.5,1333.8 376.0,1331.4 376.6,1329.0 377.2,1326.5 377.8,1324.1 378.4,1321.7 379.0,1319.3 379.7,1316.9 380.3,1314.5 381.0,1312.0 381.7,1309.6 382.4,1307.2 383.1,1304.9 383.9,1302.5 384.9,1300.2 386.1,1298.0 387.6,1296.0 389.6,1294.2 391.9,1292.7 394.3,1291.7 396.7,1291.5 399.0,1292.0 401.1,1293.0 403.2,1294.5 405.2,1296.1 407.1,1297.8 408.9,1299.6 410.8,1301.3 412.7,1302.9 414.7,1304.3 416.8,1305.4 419.0,1306.2 421.4,1306.7 423.9,1306.7 426.6,1306.5 429.3,1306.3 431.8,1306.4 434.2,1307.1 436.2,1308.4 438.1,1310.1 439.7,1312.0 441.1,1314.1 442.3,1316.4 443.3,1318.7 444.2,1321.0 445.0,1323.4 445.8,1325.9 446.5,1328.3 447.2,1330.7 447.9,1333.1 448.5,1335.5 449.2,1337.9 449.8,1340.3 450.5,1342.8 451.1,1345.2 451.7,1347.6 452.2,1350.0 452.8,1352.4 453.3,1354.8 453.8,1357.3 454.3,1359.7 454.8,1362.1 455.2,1364.6 455.7,1367.0 456.1,1369.5 456.5,1372.0 457.0,1374.4 457.4,1376.9 457.8,1379.3 458.1,1381.8 458.5,1384.3 458.9,1386.8 459.3,1389.2 459.6,1391.7 460.0,1394.2 460.4,1396.7 460.7,1399.1 461.1,1401.6 461.5,1404.1 461.8,1406.6 462.2,1409.0 462.6,1411.5 463.0,1414.0 463.4,1416.5 463.8,1418.9 464.2,1421.4 464.6,1423.8 465.0,1426.3 465.5,1428.7 465.9,1431.2 466.4,1433.6 466.9,1436.1 467.4,1438.5 467.9,1441.0 468.4,1443.4 468.9,1445.8 469.4,1448.3 469.9,1450.7 470.5,1453.1 471.0,1455.6 471.6,1458.0 472.1,1460.4 472.7,1462.9 473.2,1465.3 473.8,1467.7 474.4,1470.2 475.0,1472.6 475.6,1475.0 476.2,1477.5 476.8,1479.9 477.4,1482.4 478.0,1484.8 478.7,1487.2 479.5,1489.6 480.4,1491.9 481.4,1494.2 482.6,1496.3 484.0,1498.4 485.7,1500.4 487.5,1502.3 489.5,1503.8 491.7,1505.1 494.0,1505.9 496.4,1506.5 498.9,1506.8 501.4,1507.0 503.9,1507.3 506.4,1507.6 508.8,1508.1 511.2,1508.8 513.6,1509.6 515.9,1510.5 518.1,1511.6 520.3,1512.7 522.5,1513.9 524.7,1515.2 526.8,1516.5 529.0,1517.7 531.2,1518.9 533.4,1519.9 535.7,1520.7 538.1,1521.4 540.6,1521.9 543.0,1522.3 545.5,1522.7 548.0,1523.1 550.5,1523.5 553.0,1524.0 555.4,1524.6 557.8,1525.2 560.3,1525.8 562.7,1526.5 565.0,1527.2 567.4,1527.9 569.8,1528.7 572.2,1529.4 574.6,1530.1 577.0,1530.8 579.4,1531.4 581.8,1532.0 584.2,1532.6 586.7,1533.1 589.1,1533.6 591.6,1534.1 594.0,1534.5 596.5,1535.0 598.9,1535.4 601.4,1535.8 603.9,1536.2 606.3,1536.6 608.8,1537.0 611.3,1537.4 613.7,1537.8 616.2,1538.2 618.7,1538.6 621.1,1539.0 623.6,1539.5 626.0,1539.9 628.5,1540.3 631.0,1540.8 633.4,1541.2 635.9,1541.6 638.3,1542.1 640.8,1542.5 643.2,1542.9 645.7,1543.3 648.2,1543.7 650.6,1544.2 653.1,1544.6 655.5,1545.0 658.0,1545.4 660.5,1545.8 662.9,1546.2 665.4,1546.6 667.9,1547.0 670.3,1547.4 672.8,1547.8 675.2,1548.2 677.7,1548.6 680.2,1549.0 682.6,1549.4 685.1,1549.8 687.6,1550.2 690.0,1550.5 692.5,1550.9 695.0,1551.3 697.4,1551.7 699.9,1552.0 702.4,1552.4 704.9,1552.8 707.3,1553.1 709.8,1553.5 712.3,1553.8 714.7,1554.2 717.2,1554.5 719.7,1554.9 722.2,1555.2 724.6,1555.6 727.1,1555.9 729.6,1556.2 732.0,1556.6 734.5,1556.9 737.0,1557.2 739.5,1557.6 741.9,1557.9 744.4,1558.2 746.9,1558.5 749.4,1558.8 751.9,1559.1 754.3,1559.4 756.8,1559.7 759.3,1560.0 761.8,1560.3 764.2,1560.6 766.7,1560.9 769.2,1561.2 771.7,1561.5 774.2,1561.8 776.6,1562.1 779.1,1562.3 781.6,1562.6 784.1,1562.9 786.6,1563.2 789.0,1563.4 791.5,1563.7 794.0,1563.9 796.5,1564.2 799.0,1564.4 801.5,1564.7 803.9,1564.9 806.4,1565.2 808.9,1565.4 811.4,1565.7 813.9,1565.9 816.4,1566.1 818.9,1566.3 821.3,1566.6 823.8,1566.8 826.3,1567.0 828.8,1567.2 831.3,1567.4 833.8,1567.6 836.3,1567.8 838.7,1568.0 841.2,1568.2 843.7,1568.4 846.2,1568.6 848.7,1568.8 851.2,1569.0 853.7,1569.2 856.2,1569.3 858.7,1569.5 861.1,1569.7 863.6,1569.9 866.1,1570.0 868.6,1570.2 871.1,1570.4 873.6,1570.5 876.1,1570.7 878.6,1570.9 881.1,1571.0 883.6,1571.2 886.1,1571.3 888.5,1571.5 891.0,1571.7 893.5,1571.8 896.0,1572.0 898.5,1572.1 901.0,1572.3 903.5,1572.4 906.0,1572.6 908.5,1572.7 911.0,1572.9 913.5,1573.0 915.9,1573.2 918.4,1573.3 920.9,1573.5 923.4,1573.6 925.9,1573.8 928.4,1573.9 930.9,1574.1 933.4,1574.2 935.9,1574.4 938.4,1574.5 940.9,1574.7 943.4,1574.8 945.8,1575.0 948.3,1575.1 950.8,1575.3 953.3,1575.5 955.8,1575.6 958.3,1575.8 960.8,1575.9 963.3,1576.1 965.8,1576.3 968.3,1576.4 970.8,1576.6 973.2,1576.8 975.7,1577.0 978.2,1577.1 980.7,1577.3 983.2,1577.5 985.7,1577.7 988.2,1577.8 990.7,1578.0 993.2,1578.2 995.7,1578.4 998.1,1578.6 1000.6,1578.8 1003.1,1579.0 1005.6,1579.2 1008.1,1579.4 1010.6,1579.6 1013.1,1579.8 1015.6,1580.0 1018.0,1580.2 1020.5,1580.4 1023.0,1580.6 1025.5,1580.8 1028.0,1581.0 1030.5,1581.2 1033.0,1581.4 1035.5,1581.7 1037.9,1581.9 1040.4,1582.1 1042.9,1582.3 1045.4,1582.5 1047.9,1582.7 1050.4,1583.0 1052.9,1583.2 1055.3,1583.4 1057.8,1583.6 1060.3,1583.8 1062.8,1584.0 1065.3,1584.2 1067.8,1584.5 1070.3,1584.7 1072.8,1584.9 1075.2,1585.1 1077.7,1585.3 1080.2,1585.5 1082.7,1585.7 1085.2,1585.9 1087.7,1586.1 1090.2,1586.3 1092.7,1586.4 1095.2,1586.6 1097.6,1586.8 1100.1,1587.0 1102.6,1587.2 1105.1,1587.3 1107.6,1587.5 1110.1,1587.7 1112.6,1587.8 1115.1,1588.0 1117.6,1588.1 1120.1,1588.3 1122.5,1588.4 1125.0,1588.5 1127.5,1588.7 1130.0,1588.8 1132.5,1588.9 1135.0,1589.0 1137.5,1589.1 1140.0,1589.2 1142.5,1589.3" fill="none" stroke="#FF0000" stroke-width="7.2" stroke-linejoin="round"/>
<path d="M1348.5,418.4 1351.1,418.8 1353.5,418.5 1356.0,418.2 1358.5,417.9 1361.0,417.7 1363.5,417.4 1365.9,417.2 1368.4,416.9 1370.9,416.6 1373.4,416.4 1375.9,416.1 1378.4,415.9 1380.8,415.6 1383.3,415.4 1385.8,415.1 1388.3,414.9 1390.8,414.7 1393.3,414.4 1395.7,414.2 1398.2,414.0 1400.7,413.7 1403.2,413.5 1405.7,413.3 1408.2,413.1 1410.7,412.8 1413.1,412.6 1415.6,412.4 1418.1,412.2 1420.6,412.0 1423.1,411.7 1425.6,411.5 1428.1,411.3 1430.6,411.1 1433.0,410.9 1435.5,410.7 1438.0,410.5 1440.5,410.3 1443.0,410.1 1445.5,409.9 1448.0,409.7 1450.5,409.5 1453.0,409.3 1455.5,409.1 1457.9,408.9 1460.4,408.7 1462.9,408.5 1465.4,408.3 1467.9,408.1 1470.4,407.9 1472.9,407.7 1475.4,407.5 1477.9,407.4 1480.4,407.2 1482.8,407.0 1485.3,406.8 1487.8,406.6 1490.3,406.4 1492.8,406.2 1495.3,406.0 1497.8,405.9 1500.3,405.7 1502.8,405.5 1505.3,405.3 1507.8,405.1 1510.2,404.9 1512.7,404.8 1515.2,404.6 1517.7,404.4 1520.2,404.2 1522.7,404.0 1525.2,403.8 1527.7,403.6 1530.2,403.5 1532.7,403.3 1535.2,403.1 1537.7,402.9 1540.1,402.7 1542.6,402.5 1545.1,402.4 1547.6,402.2 1550.1,402.0 1552.6,401.8 1555.1,401.6 1557.6,401.4 1560.1,401.2 1562.6,401.0 1565.1,400.9 1567.5,400.7 1570.0,400.5 1572.5,400.3 1575.0,400.1 1577.5,399.9 1580.0,399.7 1582.5,399.5 1585.0,399.3 1587.5,399.1 1590.0,398.9 1592.5,398.7 1594.9,398.5 1597.4,398.3 1599.9,398.1 1602.4,397.9 1604.9,397.7 1607.4,397.5 1609.9,397.3 1612.4,397.0 1614.9,396.8 1617.3,396.6 1619.8,396.4 1622.3,396.2 1624.8,396.0 1627.3,395.7 1629.8,395.5 1632.3,395.3 1634.8,395.1 1637.3,394.8 1639.7,394.6 1642.2,394.4 1644.7,394.1 1647.2,393.9 1649.7,393.7 1652.2,393.4 1654.7,393.2 1657.1,392.9 1659.6,392.7 1662.1,392.4 1664.6,392.2 1667.1,391.9 1669.6,391.7 1672.0,391.4 1674.5,391.2 1677.0,390.9 1679.5,390.6 1682.0,390.4 1684.5,390.1 1686.9,389.8 1689.4,389.5 1691.9,389.2 1694.4,389.0 1696.9,388.7 1699.3,388.4 1701.8,388.1 1704.3,387.8 1706.8,387.5 1709.3,387.2 1711.7,386.9 1714.2,386.6 1716.7,386.3 1719.2,386.0 1721.7,385.6 1724.1,385.3 1726.6,385.0 1729.1,384.7 1731.6,384.3 1734.0,384.0 1736.5,383.7 1739.0,383.3 1741.5,383.0 1743.9,382.6 1746.4,382.3 1748.9,381.9 1751.4,381.6 1753.8,381.2 1756.3,380.8 1758.8,380.5 1761.2,380.1 1763.7,379.7 1766.2,379.3 1768.7,378.9 1771.1,378.5 1773.6,378.1 1776.1,377.7 1778.5,377.3 1781.0,376.9 1783.5,376.5 1785.9,376.1 1788.4,375.7 1790.9,375.2 1793.3,374.8 1795.8,374.3 1798.2,373.9 1800.7,373.4 1803.1,372.9 1805.6,372.4 1808.0,371.9 1810.4,371.3 1812.8,370.8 1815.3,370.2 1817.7,369.6 1820.1,369.0 1822.5,368.4 1824.8,367.7 1827.2,367.0 1829.6,366.3 1831.9,365.6 1834.3,364.8 1836.6,364.1 1839.0,363.3 1841.3,362.4 1843.6,361.5 1845.9,360.6 1848.1,359.7 1850.4,358.7 1852.6,357.7 1854.9,356.7 1857.1,355.6 1859.3,354.5 1861.5,353.3 1863.7,352.1 1865.8,350.9 1868.0,349.7 1870.1,348.4 1872.3,347.1 1874.4,345.7 1876.5,344.4 1878.6,343.0 1880.7,341.6 1882.7,340.2 1884.8,338.7 1886.9,337.3 1888.9,335.8 1891.0,334.3 1893.0,332.8 1895.0,331.3 1897.0,329.8 1899.1,328.3 1901.1,326.7 1903.1,325.2 1905.1,323.7 1907.1,322.1 1909.1,320.6 1911.1,319.0 1913.0,317.5 1915.0,315.9 1917.0,314.4 1919.0,312.8 1921.0,311.3 1923.0,309.7 1924.9,308.2 1926.9,306.6 1928.9,305.1 1930.9,303.5 1932.9,302.0 1934.9,300.5 1936.9,298.9 1938.9,297.4 1940.9,295.9 1942.9,294.4 1944.9,292.9 1946.9,291.4 1948.9,289.9 1950.9,288.4 1952.9,286.9 1954.9,285.4 1956.9,284.0 1958.9,282.5 1961.0,281.0 1963.0,279.6 1965.0,278.1 1967.0,276.7 1969.1,275.2 1971.1,273.8 1973.1,272.4 1975.2,271.0 1977.2,269.5 1979.3,268.1 1981.3,266.7 1983.3,265.3 1985.4,263.9 1987.4,262.5 1989.5,261.1 1991.5,259.7 1993.6,258.3 1995.6,256.9 1997.7,255.6 1999.7,254.2 2001.8,252.8 2003.8,251.4 2005.9,250.0 2008.0,248.7 2010.0,247.3 2012.1,245.9 2014.1,244.5 2016.2,243.1 2018.2,241.7 2020.3,240.3 2022.3,238.9 2024.3,237.5 2026.4,236.1 2028.4,234.7 2030.5,233.3 2032.5,231.9 2034.5,230.5 2036.6,229.1 2038.6,227.6 2040.6,226.2 2042.6,224.7 2044.7,223.3 2046.7,221.8 2048.7,220.3 2050.7,218.8 2052.7,217.3 2054.7,215.8 2056.7,214.3 2058.7,212.8 2060.7,211.3 2062.7,209.7 2064.6,208.2 2066.6,206.6 2068.6,205.0 2070.5,203.4 2072.5,201.8 2074.4,200.2 2076.4,198.6 2078.3,196.9 2080.3,195.3 2082.2,193.6 2084.2,192.0 2086.1,190.4 2088.1,188.7 2090.0,187.1 2092.0,185.5 2094.0,183.8 2095.9,182.2 2097.9,180.6 2099.9,179.0 2101.9,177.5 2103.9,175.9 2106.0,174.4 2108.0,172.9 2110.0,171.4 2112.1,169.9 2114.2,168.5 2116.3,167.1 2118.4,165.7 2120.5,164.3 2122.7,163.0 2124.8,161.7 2127.0,160.5 2129.2,159.3 2131.5,158.1 2133.7,157.0 2136.0,155.9 2138.3,154.9 2140.6,153.9 2143.0,152.9 2145.3,152.0 2147.7,151.2 2150.0,150.4 2152.4,149.6 2154.8,148.9 2157.2,148.3 2159.6,147.7 2162.0,147.2 2164.5,146.7 2166.9,146.3 2169.3,145.9 2171.7,145.6 2174.1,145.4 2176.5,145.2 2178.9,145.1 2181.3,145.1 2183.7,145.1 2186.1,145.2 2188.5,145.4 2190.8,145.6 2193.2,145.9 2195.5,146.3 2197.8,146.7 2200.1,147.3 2202.4,147.9 2204.7,148.5 2206.9,149.3 2209.1,150.1 2211.3,151.1 2213.5,152.0 2215.7,153.1 2217.8,154.2 2219.9,155.4 2222.0,156.7 2224.1,158.0 2226.1,159.3 2228.1,160.8 2230.1,162.2 2232.1,163.8 2234.1,165.3 2236.1,167.0 2238.0,168.6 2239.9,170.3 2241.8,172.1 2243.7,173.8 2245.5,175.6 2247.4,177.5 2249.2,179.3 2251.0,181.2 2252.8,183.1 2254.6,185.1 2256.4,187.0 2258.1,189.0 2259.9,191.0 2261.6,193.0 2263.3,194.9 2265.0,196.9 2266.7,198.9 2268.4,200.9 2270.0,202.9 2271.7,204.9 2273.3,206.9 2274.9,208.9 2276.5,210.8 2278.1,212.8 2279.7,214.8 2281.3,216.7 2282.9,218.6 2284.5,220.5 2286.0,222.5 2287.6,224.3 2289.2,226.2 2290.8,228.1 2292.3,229.9 2293.9,231.8 2295.5,233.6 2297.1,235.4 2298.7,237.2 2300.3,238.9 2301.9,240.7 2303.5,242.4 2305.1,244.1 2306.7,245.8 2308.5,248.0" fill="none" stroke="#FF00FF" stroke-width="6" stroke-linejoin="round"/>
<path d="M1348.5,801.8 1351.0,801.7 1353.5,801.5 1356.0,801.3 1358.5,801.2 1361.0,801.0 1363.4,800.8 1365.9,800.7 1368.4,800.5 1370.9,800.4 1373.4,800.2 1375.9,800.1 1378.4,799.9 1380.9,799.8 1383.4,799.6 1385.9,799.5 1388.3,799.3 1390.8,799.2 1393.3,799.0 1395.8,798.9 1398.3,798.8 1400.8,798.6 1403.3,798.5 1405.8,798.3 1408.3,798.2 1410.8,798.1 1413.3,798.0 1415.8,797.8 1418.3,797.7 1420.8,797.6 1423.3,797.4 1425.8,797.3 1428.3,797.2 1430.7,797.1 1433.2,797.0 1435.7,796.8 1438.2,796.7 1440.7,796.6 1443.2,796.5 1445.7,796.4 1448.2,796.3 1450.7,796.1 1453.2,796.0 1455.7,795.9 1458.2,795.8 1460.7,795.7 1463.2,795.6 1465.7,795.5 1468.2,795.4 1470.7,795.2 1473.2,795.1 1475.7,795.0 1478.2,794.9 1480.7,794.8 1483.2,794.7 1485.7,794.6 1488.2,794.5 1490.7,794.4 1493.2,794.3 1495.7,794.1 1498.2,794.0 1500.7,793.9 1503.2,793.8 1505.7,793.7 1508.2,793.6 1510.7,793.5 1513.2,793.4 1515.7,793.3 1518.2,793.2 1520.7,793.1 1523.2,792.9 1525.7,792.8 1528.2,792.7 1530.7,792.6 1533.2,792.5 1535.7,792.4 1538.2,792.3 1540.7,792.2 1543.2,792.0 1545.7,791.9 1548.2,791.8 1550.7,791.7 1553.1,791.6 1555.6,791.4 1558.1,791.3 1560.6,791.2 1563.1,791.1 1565.6,791.0 1568.1,790.8 1570.6,790.7 1573.1,790.6 1575.6,790.4 1578.1,790.3 1580.6,790.2 1583.1,790.1 1585.6,789.9 1588.1,789.8 1590.6,789.6 1593.0,789.5 1595.5,789.4 1598.0,789.2 1600.5,789.1 1603.0,788.9 1605.5,788.8 1608.0,788.6 1610.5,788.5 1613.0,788.3 1615.5,788.2 1617.9,788.0 1620.4,787.9 1622.9,787.7 1625.4,787.5 1627.9,787.4 1630.4,787.2 1632.9,787.0 1635.3,786.9 1637.8,786.7 1640.3,786.5 1642.8,786.4 1645.3,786.2 1647.8,786.0 1650.2,785.8 1652.7,785.6 1655.2,785.4 1657.7,785.3 1660.2,785.1 1662.6,784.9 1665.1,784.7 1667.6,784.5 1670.1,784.3 1672.6,784.1 1675.1,783.9 1677.5,783.8 1680.0,783.6 1682.5,783.4 1685.0,783.2 1687.5,783.0 1690.0,782.9 1692.5,782.7 1694.9,782.5 1697.4,782.3 1699.9,782.2 1702.4,782.0 1704.9,781.8 1707.4,781.7 1709.9,781.5 1712.4,781.4 1714.9,781.2 1717.4,781.1 1719.9,781.0 1722.4,780.8 1725.0,780.7 1727.5,780.6 1730.0,780.5 1732.5,780.4 1735.0,780.3 1737.5,780.2 1740.1,780.1 1742.6,780.0 1745.1,779.9 1747.7,779.8 1750.2,779.8 1752.7,779.7 1755.2,779.6 1757.8,779.5 1760.3,779.4 1762.8,779.3 1765.4,779.2 1767.9,779.1 1770.4,779.0 1772.9,778.9 1775.4,778.7 1778.0,778.6 1780.5,778.4 1783.0,778.2 1785.5,778.0 1788.0,777.8 1790.5,777.5 1792.9,777.2 1795.4,776.9 1797.9,776.6 1800.3,776.3 1802.8,775.9 1805.2,775.5 1807.7,775.0 1810.1,774.6 1812.5,774.0 1814.9,773.5 1817.3,772.9 1819.7,772.3 1822.1,771.7 1824.4,771.0 1826.8,770.3 1829.1,769.5 1831.5,768.8 1833.8,768.0 1836.1,767.1 1838.4,766.3 1840.7,765.4 1843.0,764.5 1845.3,763.6 1847.6,762.6 1849.9,761.6 1852.2,760.6 1854.4,759.6 1856.7,758.6 1859.0,757.5 1861.2,756.5 1863.5,755.4 1865.7,754.3 1868.0,753.2 1870.2,752.1 1872.4,751.0 1874.7,749.9 1876.9,748.7 1879.1,747.6 1881.4,746.4 1883.6,745.3 1885.8,744.1 1888.0,742.9 1890.3,741.8 1892.5,740.6 1894.7,739.5 1897.0,738.3 1899.2,737.2 1901.4,736.0 1903.7,734.9 1905.9,733.7 1908.1,732.6 1910.4,731.5 1912.6,730.4 1914.9,729.2 1917.1,728.1 1919.4,727.0 1921.6,725.9 1923.9,724.9 1926.1,723.8 1928.4,722.7 1930.6,721.6 1932.9,720.5 1935.1,719.5 1937.4,718.4 1939.6,717.3 1941.9,716.3 1944.2,715.2 1946.4,714.2 1948.7,713.1 1951.0,712.1 1953.2,711.0 1955.5,710.0 1957.8,708.9 1960.0,707.9 1962.3,706.8 1964.6,705.8 1966.8,704.7 1969.1,703.7 1971.4,702.6 1973.6,701.6 1975.9,700.6 1978.2,699.5 1980.4,698.5 1982.7,697.4 1985.0,696.4 1987.2,695.3 1989.5,694.3 1991.8,693.2 1994.0,692.2 1996.3,691.1 1998.6,690.0 2000.8,689.0 2003.1,687.9 2005.3,686.8 2007.6,685.7 2009.8,684.6 2012.0,683.5 2014.3,682.4 2016.5,681.3 2018.7,680.1 2020.9,679.0 2023.1,677.8 2025.3,676.6 2027.5,675.5 2029.7,674.3 2031.8,673.1 2034.0,671.8 2036.1,670.6 2038.2,669.3 2040.4,668.1 2042.5,666.8 2044.6,665.5 2046.7,664.1 2048.7,662.8 2050.8,661.4 2052.8,660.0 2054.8,658.6 2056.9,657.2 2058.8,655.8 2060.8,654.3 2062.8,652.8 2064.7,651.3 2066.7,649.7 2068.6,648.1 2070.4,646.5 2072.3,644.9 2074.2,643.3 2076.0,641.6 2077.8,639.9 2079.6,638.1 2081.3,636.4 2083.1,634.6 2084.8,632.7 2086.5,630.9 2088.2,629.0 2089.9,627.1 2091.5,625.2 2093.2,623.3 2094.8,621.3 2096.4,619.4 2098.0,617.4 2099.6,615.4 2101.2,613.4 2102.8,611.4 2104.4,609.3 2106.0,607.3 2107.5,605.3 2109.1,603.2 2110.7,601.2 2112.3,599.2 2113.8,597.1 2115.4,595.1 2117.0,593.1 2118.6,591.0 2120.1,589.0 2121.7,587.0 2123.3,585.0 2125.0,583.0 2126.6,581.1 2128.2,579.1 2129.9,577.2 2131.5,575.2 2133.2,573.3 2134.9,571.5 2136.6,569.6 2138.3,567.8 2140.1,566.0 2141.8,564.2 2143.6,562.4 2145.4,560.7 2147.3,559.0 2149.1,557.4 2151.0,555.8 2153.0,554.2 2154.9,552.7 2156.9,551.2 2158.9,549.7 2160.9,548.3 2163.0,546.9 2165.1,545.6 2167.2,544.3 2169.4,543.1 2171.5,542.0 2173.7,540.9 2175.9,539.8 2178.1,538.9 2180.4,538.0 2182.7,537.1 2184.9,536.4 2187.2,535.7 2189.5,535.1 2191.8,534.6 2194.2,534.1 2196.5,533.8 2198.8,533.5 2201.2,533.3 2203.5,533.2 2205.8,533.3 2208.2,533.4 2210.5,533.5 2212.9,533.8 2215.2,534.2 2217.5,534.6 2219.8,535.2 2222.2,535.8 2224.4,536.5 2226.7,537.3 2229.0,538.1 2231.2,539.1 2233.5,540.1 2235.7,541.2 2237.8,542.3 2240.0,543.5 2242.1,544.8 2244.2,546.2 2246.3,547.6 2248.4,549.1 2250.4,550.7 2252.4,552.3 2254.4,553.9 2256.3,555.6 2258.2,557.4 2260.1,559.2 2262.0,561.0 2263.8,562.9 2265.6,564.8 2267.4,566.7 2269.2,568.7 2271.0,570.7 2272.7,572.7 2274.4,574.8 2276.0,576.8 2277.7,578.9 2279.3,581.0 2280.9,583.1 2282.5,585.2 2284.0,587.4 2285.6,589.5 2287.1,591.6 2288.6,593.7 2290.0,595.9 2291.5,598.0 2292.9,600.1 2294.3,602.1 2295.6,604.2 2297.0,606.3 2298.3,608.3 2299.6,610.3 2300.9,612.3 2302.2,614.2 2303.4,616.1 2304.6,618.0 2305.8,619.8 2307.0,621.6 2308.5,624.0" fill="none" stroke="#0000FF" stroke-width="6" stroke-linejoin="round"/>
<path d="M1348.5,1208.0 1350.8,1207.5 1353.4,1207.5 1355.9,1207.4 1358.4,1207.4 1360.9,1207.3 1363.5,1207.2 1366.0,1207.2 1368.5,1207.1 1371.0,1207.0 1373.5,1207.0 1376.0,1206.9 1378.6,1206.8 1381.1,1206.7 1383.6,1206.6 1386.1,1206.5 1388.6,1206.4 1391.1,1206.3 1393.6,1206.2 1396.1,1206.1 1398.6,1206.0 1401.1,1205.9 1403.6,1205.8 1406.1,1205.7 1408.6,1205.6 1411.1,1205.5 1413.6,1205.4 1416.1,1205.3 1418.6,1205.2 1421.1,1205.0 1423.6,1204.9 1426.1,1204.8 1428.6,1204.7 1431.1,1204.5 1433.6,1204.4 1436.1,1204.3 1438.5,1204.1 1441.0,1204.0 1443.5,1203.9 1446.0,1203.7 1448.5,1203.6 1451.0,1203.4 1453.5,1203.3 1455.9,1203.1 1458.4,1203.0 1460.9,1202.9 1463.4,1202.7 1465.9,1202.5 1468.4,1202.4 1470.8,1202.2 1473.3,1202.1 1475.8,1201.9 1478.3,1201.8 1480.8,1201.6 1483.2,1201.4 1485.7,1201.3 1488.2,1201.1 1490.7,1201.0 1493.1,1200.8 1495.6,1200.6 1498.1,1200.5 1500.6,1200.3 1503.0,1200.1 1505.5,1199.9 1508.0,1199.8 1510.5,1199.6 1513.0,1199.4 1515.4,1199.3 1517.9,1199.1 1520.4,1198.9 1522.9,1198.7 1525.3,1198.6 1527.8,1198.4 1530.3,1198.2 1532.8,1198.0 1535.2,1197.8 1537.7,1197.7 1540.2,1197.5 1542.7,1197.3 1545.1,1197.1 1547.6,1196.9 1550.1,1196.8 1552.6,1196.6 1555.0,1196.4 1557.5,1196.2 1560.0,1196.0 1562.5,1195.9 1564.9,1195.7 1567.4,1195.5 1569.9,1195.3 1572.4,1195.1 1574.8,1194.9 1577.3,1194.8 1579.8,1194.6 1582.3,1194.4 1584.8,1194.2 1587.2,1194.0 1589.7,1193.8 1592.2,1193.7 1594.7,1193.5 1597.2,1193.3 1599.7,1193.1 1602.1,1192.9 1604.6,1192.8 1607.1,1192.6 1609.6,1192.4 1612.1,1192.2 1614.6,1192.0 1617.1,1191.9 1619.5,1191.7 1622.0,1191.5 1624.5,1191.3 1627.0,1191.2 1629.5,1191.0 1632.0,1190.8 1634.5,1190.6 1637.0,1190.5 1639.5,1190.3 1642.0,1190.1 1644.5,1190.0 1647.0,1189.8 1649.5,1189.6 1652.0,1189.5 1654.5,1189.3 1657.0,1189.1 1659.5,1189.0 1662.0,1188.8 1664.5,1188.6 1667.0,1188.5 1669.5,1188.3 1672.0,1188.2 1674.5,1188.0 1677.0,1187.8 1679.6,1187.7 1682.1,1187.5 1684.6,1187.4 1687.1,1187.2 1689.6,1187.1 1692.1,1187.0 1694.7,1186.8 1697.2,1186.7 1699.7,1186.5 1702.2,1186.4 1704.8,1186.2 1707.3,1186.1 1709.8,1185.9 1712.3,1185.8 1714.8,1185.6 1717.4,1185.4 1719.9,1185.3 1722.4,1185.1 1724.9,1184.9 1727.4,1184.7 1730.0,1184.5 1732.5,1184.4 1735.0,1184.1 1737.5,1183.9 1740.0,1183.7 1742.5,1183.5 1745.0,1183.3 1747.5,1183.0 1750.0,1182.7 1752.5,1182.5 1755.0,1182.2 1757.5,1181.9 1760.0,1181.6 1762.5,1181.3 1764.9,1181.0 1767.4,1180.6 1769.9,1180.3 1772.3,1179.9 1774.8,1179.5 1777.3,1179.1 1779.7,1178.7 1782.1,1178.3 1784.6,1177.8 1787.0,1177.3 1789.4,1176.9 1791.9,1176.3 1794.3,1175.8 1796.7,1175.3 1799.1,1174.7 1801.5,1174.1 1803.9,1173.5 1806.3,1172.9 1808.6,1172.3 1811.0,1171.6 1813.4,1170.9 1815.7,1170.2 1818.1,1169.4 1820.4,1168.7 1822.7,1167.9 1825.0,1167.1 1827.3,1166.2 1829.6,1165.4 1831.9,1164.5 1834.2,1163.5 1836.5,1162.6 1838.8,1161.6 1841.0,1160.6 1843.3,1159.6 1845.5,1158.6 1847.8,1157.5 1850.0,1156.4 1852.2,1155.3 1854.4,1154.2 1856.6,1153.0 1858.8,1151.9 1861.0,1150.7 1863.2,1149.5 1865.4,1148.4 1867.6,1147.2 1869.8,1145.9 1872.0,1144.7 1874.2,1143.5 1876.4,1142.3 1878.6,1141.1 1880.8,1139.8 1883.0,1138.6 1885.2,1137.4 1887.3,1136.2 1889.5,1134.9 1891.7,1133.7 1893.9,1132.5 1896.1,1131.3 1898.3,1130.1 1900.6,1128.9 1902.8,1127.7 1905.0,1126.6 1907.2,1125.4 1909.5,1124.3 1911.7,1123.2 1914.0,1122.1 1916.2,1121.0 1918.5,1120.0 1920.7,1118.9 1923.0,1117.9 1925.3,1116.9 1927.6,1115.9 1929.9,1115.0 1932.3,1114.1 1934.6,1113.2 1936.9,1112.3 1939.3,1111.4 1941.6,1110.6 1944.0,1109.7 1946.3,1108.9 1948.7,1108.1 1951.0,1107.3 1953.4,1106.5 1955.8,1105.7 1958.1,1104.9 1960.5,1104.1 1962.9,1103.3 1965.2,1102.6 1967.6,1101.8 1970.0,1101.0 1972.3,1100.2 1974.7,1099.4 1977.0,1098.5 1979.4,1097.7 1981.7,1096.9 1984.1,1096.0 1986.4,1095.2 1988.7,1094.3 1991.0,1093.4 1993.3,1092.5 1995.6,1091.5 1997.9,1090.6 2000.2,1089.6 2002.4,1088.5 2004.7,1087.5 2006.9,1086.4 2009.1,1085.3 2011.3,1084.2 2013.5,1083.0 2015.7,1081.8 2017.9,1080.6 2020.0,1079.3 2022.1,1078.1 2024.2,1076.7 2026.3,1075.4 2028.4,1074.0 2030.5,1072.6 2032.5,1071.2 2034.5,1069.7 2036.5,1068.3 2038.5,1066.8 2040.5,1065.2 2042.4,1063.7 2044.4,1062.1 2046.3,1060.5 2048.1,1058.8 2050.0,1057.2 2051.9,1055.5 2053.7,1053.8 2055.5,1052.1 2057.2,1050.4 2059.0,1048.6 2060.7,1046.8 2062.4,1045.0 2064.1,1043.2 2065.8,1041.4 2067.4,1039.5 2069.0,1037.6 2070.6,1035.7 2072.2,1033.8 2073.8,1031.9 2075.3,1030.0 2076.9,1028.0 2078.4,1026.1 2079.9,1024.1 2081.4,1022.1 2082.9,1020.1 2084.3,1018.1 2085.8,1016.1 2087.2,1014.0 2088.7,1012.0 2090.1,1009.9 2091.5,1007.9 2092.9,1005.8 2094.3,1003.7 2095.8,1001.7 2097.1,999.6 2098.5,997.5 2099.9,995.4 2101.3,993.3 2102.7,991.2 2104.1,989.1 2105.5,987.0 2106.9,984.9 2108.3,982.8 2109.8,980.7 2111.2,978.7 2112.6,976.6 2114.1,974.5 2115.6,972.5 2117.1,970.4 2118.6,968.4 2120.1,966.4 2121.7,964.4 2123.3,962.4 2124.9,960.4 2126.5,958.5 2128.2,956.6 2129.9,954.7 2131.6,952.8 2133.4,950.9 2135.2,949.1 2137.0,947.3 2138.9,945.5 2140.8,943.8 2142.8,942.1 2144.8,940.4 2146.8,938.8 2148.9,937.2 2150.9,935.7 2153.1,934.3 2155.2,932.9 2157.4,931.6 2159.5,930.3 2161.7,929.2 2164.0,928.1 2166.2,927.1 2168.5,926.2 2170.7,925.4 2173.0,924.8 2175.3,924.2 2177.6,923.7 2179.9,923.4 2182.2,923.2 2184.5,923.1 2186.8,923.1 2189.1,923.2 2191.4,923.5 2193.6,923.9 2195.9,924.3 2198.1,924.9 2200.3,925.6 2202.5,926.5 2204.6,927.4 2206.7,928.5 2208.8,929.6 2210.8,930.9 2212.8,932.2 2214.8,933.6 2216.7,935.1 2218.7,936.7 2220.5,938.4 2222.4,940.1 2224.2,941.9 2226.1,943.7 2227.8,945.6 2229.6,947.5 2231.3,949.5 2233.0,951.5 2234.7,953.5 2236.3,955.6 2237.9,957.6 2239.5,959.7 2241.1,961.8 2242.6,963.9 2244.1,966.1 2245.6,968.2 2247.1,970.3 2248.6,972.4 2250.0,974.5 2251.4,976.7 2252.8,978.8 2254.1,980.9 2255.5,983.1 2256.8,985.2 2258.1,987.4 2259.5,989.5 2260.7,991.6 2262.0,993.8 2263.3,995.9 2264.5,998.1 2265.8,1000.2 2267.0,1002.4 2268.3,1004.5 2269.5,1006.7 2270.7,1008.9 2271.9,1011.0 2273.1,1013.2 2274.3,1015.3 2275.5,1017.5 2276.7,1019.6 2278.0,1021.8 2279.2,1023.9 2280.4,1026.1 2281.6,1028.2 2282.8,1030.4 2284.0,1032.5 2285.2,1034.6 2286.4,1036.8 2287.7,1038.9 2288.9,1041.1 2290.2,1043.2 2291.4,1045.3 2292.7,1047.4 2294.0,1049.6 2295.3,1051.7 2296.6,1053.8 2297.9,1055.9 2299.3,1058.0 2300.6,1060.1 2302.0,1062.2 2303.4,1064.3 2304.8,1066.4 2306.2,1068.5 2307.7,1070.6 2308.5,1073.0" fill="none" stroke="#00FF00" stroke-width="6" stroke-linejoin="round"/>
<path d="M1348.5,1596.9 1351.0,1596.6 1353.5,1596.5 1356.0,1596.4 1358.5,1596.3 1361.0,1596.1 1363.5,1596.0 1366.0,1595.9 1368.5,1595.8 1371.0,1595.7 1373.5,1595.5 1376.0,1595.4 1378.5,1595.3 1381.0,1595.2 1383.4,1595.1 1385.9,1594.9 1388.4,1594.8 1390.9,1594.7 1393.4,1594.6 1395.9,1594.4 1398.4,1594.3 1400.9,1594.2 1403.4,1594.1 1405.9,1593.9 1408.4,1593.8 1410.9,1593.7 1413.4,1593.6 1415.9,1593.4 1418.4,1593.3 1420.9,1593.2 1423.4,1593.1 1425.9,1592.9 1428.4,1592.8 1430.9,1592.7 1433.4,1592.5 1435.9,1592.4 1438.4,1592.3 1440.9,1592.2 1443.4,1592.0 1445.8,1591.9 1448.3,1591.8 1450.8,1591.6 1453.3,1591.5 1455.8,1591.4 1458.3,1591.3 1460.8,1591.1 1463.3,1591.0 1465.8,1590.9 1468.3,1590.7 1470.8,1590.6 1473.3,1590.5 1475.8,1590.3 1478.3,1590.2 1480.8,1590.1 1483.3,1589.9 1485.8,1589.8 1488.2,1589.7 1490.7,1589.5 1493.2,1589.4 1495.7,1589.3 1498.2,1589.1 1500.7,1589.0 1503.2,1588.9 1505.7,1588.7 1508.2,1588.6 1510.7,1588.5 1513.2,1588.3 1515.7,1588.2 1518.2,1588.1 1520.7,1587.9 1523.2,1587.8 1525.7,1587.7 1528.1,1587.5 1530.6,1587.4 1533.1,1587.3 1535.6,1587.1 1538.1,1587.0 1540.6,1586.9 1543.1,1586.7 1545.6,1586.6 1548.1,1586.5 1550.6,1586.3 1553.1,1586.2 1555.6,1586.1 1558.1,1585.9 1560.6,1585.8 1563.1,1585.6 1565.5,1585.5 1568.0,1585.4 1570.5,1585.2 1573.0,1585.1 1575.5,1585.0 1578.0,1584.8 1580.5,1584.7 1583.0,1584.6 1585.5,1584.4 1588.0,1584.3 1590.5,1584.2 1593.0,1584.0 1595.5,1583.9 1598.0,1583.7 1600.5,1583.6 1603.0,1583.5 1605.4,1583.3 1607.9,1583.2 1610.4,1583.1 1612.9,1582.9 1615.4,1582.8 1617.9,1582.7 1620.4,1582.5 1622.9,1582.4 1625.4,1582.3 1627.9,1582.1 1630.4,1582.0 1632.9,1581.8 1635.4,1581.7 1637.9,1581.6 1640.4,1581.4 1642.9,1581.3 1645.4,1581.2 1647.9,1581.0 1650.3,1580.9 1652.8,1580.8 1655.3,1580.6 1657.8,1580.5 1660.3,1580.4 1662.8,1580.2 1665.3,1580.1 1667.8,1580.0 1670.3,1579.8 1672.8,1579.7 1675.3,1579.6 1677.8,1579.4 1680.3,1579.3 1682.8,1579.2 1685.3,1579.0 1687.8,1578.9 1690.3,1578.8 1692.8,1578.6 1695.3,1578.5 1697.8,1578.4 1700.3,1578.2 1702.8,1578.1 1705.3,1577.9 1707.8,1577.8 1710.3,1577.6 1712.8,1577.5 1715.3,1577.3 1717.8,1577.1 1720.3,1576.9 1722.8,1576.7 1725.2,1576.5 1727.7,1576.3 1730.2,1576.1 1732.7,1575.9 1735.2,1575.6 1737.7,1575.4 1740.2,1575.1 1742.7,1574.8 1745.2,1574.5 1747.7,1574.2 1750.2,1573.9 1752.7,1573.5 1755.2,1573.2 1757.7,1572.8 1760.2,1572.4 1762.6,1572.0 1765.1,1571.5 1767.6,1571.0 1770.0,1570.4 1772.5,1569.9 1774.9,1569.2 1777.3,1568.5 1779.7,1567.8 1782.1,1567.0 1784.4,1566.2 1786.8,1565.3 1789.1,1564.3 1791.4,1563.4 1793.6,1562.3 1795.9,1561.2 1798.1,1560.1 1800.3,1558.9 1802.4,1557.7 1804.5,1556.4 1806.6,1555.1 1808.6,1553.8 1810.6,1552.4 1812.6,1550.9 1814.5,1549.4 1816.4,1547.9 1818.2,1546.4 1820.0,1544.8 1821.8,1543.1 1823.5,1541.5 1825.3,1539.8 1826.9,1538.0 1828.6,1536.2 1830.2,1534.4 1831.8,1532.6 1833.4,1530.8 1834.9,1528.9 1836.4,1526.9 1837.9,1525.0 1839.4,1523.0 1840.9,1521.0 1842.3,1519.0 1843.7,1517.0 1845.1,1514.9 1846.5,1512.9 1847.8,1510.8 1849.2,1508.6 1850.5,1506.5 1851.8,1504.4 1853.1,1502.2 1854.4,1500.0 1855.6,1497.8 1856.9,1495.6 1858.2,1493.4 1859.4,1491.2 1860.6,1488.9 1861.9,1486.7 1863.1,1484.4 1864.3,1482.2 1865.5,1479.9 1866.7,1477.7 1867.9,1475.4 1869.1,1473.1 1870.3,1470.9 1871.5,1468.6 1872.8,1466.3 1874.0,1464.0 1875.2,1461.8 1876.4,1459.5 1877.6,1457.3 1878.9,1455.0 1880.1,1452.8 1881.4,1450.5 1882.6,1448.3 1883.9,1446.1 1885.1,1443.9 1886.4,1441.7 1887.7,1439.5 1889.0,1437.3 1890.4,1435.2 1891.7,1433.0 1893.0,1430.9 1894.4,1428.8 1895.8,1426.7 1897.2,1424.6 1898.6,1422.5 1900.0,1420.5 1901.5,1418.5 1902.9,1416.5 1904.4,1414.5 1905.9,1412.5 1907.5,1410.6 1909.0,1408.7 1910.6,1406.8 1912.2,1404.9 1913.8,1403.1 1915.5,1401.3 1917.2,1399.5 1918.9,1397.8 1920.6,1396.1 1922.3,1394.4 1924.1,1392.7 1925.9,1391.1 1927.8,1389.5 1929.7,1388.0 1931.6,1386.4 1933.5,1385.0 1935.5,1383.5 1937.5,1382.1 1939.5,1380.7 1941.6,1379.4 1943.7,1378.1 1945.8,1376.9 1948.0,1375.6 1950.2,1374.5 1952.4,1373.3 1954.6,1372.2 1956.9,1371.2 1959.1,1370.1 1961.4,1369.2 1963.8,1368.2 1966.1,1367.3 1968.4,1366.4 1970.8,1365.6 1973.2,1364.8 1975.6,1364.1 1978.0,1363.4 1980.4,1362.7 1982.9,1362.1 1985.3,1361.5 1987.8,1360.9 1990.2,1360.4 1992.7,1359.9 1995.2,1359.4 1997.6,1358.9 2000.1,1358.4 2002.6,1358.0 2005.0,1357.5 2007.5,1357.0 2009.9,1356.5 2012.4,1356.0 2014.8,1355.5 2017.2,1354.9 2019.7,1354.3 2022.0,1353.7 2024.4,1353.0 2026.8,1352.3 2029.1,1351.5 2031.4,1350.7 2033.7,1349.8 2036.0,1348.9 2038.3,1348.0 2040.5,1347.0 2042.8,1346.0 2045.0,1344.9 2047.2,1343.8 2049.5,1342.7 2051.7,1341.6 2053.9,1340.4 2056.1,1339.2 2058.3,1338.1 2060.5,1336.9 2062.7,1335.7 2064.9,1334.4 2067.2,1333.2 2069.4,1332.0 2071.7,1330.8 2073.9,1329.6 2076.2,1328.4 2078.5,1327.3 2080.8,1326.1 2083.1,1325.0 2085.4,1323.8 2087.8,1322.8 2090.2,1321.7 2092.5,1320.7 2094.9,1319.7 2097.3,1318.8 2099.7,1317.9 2102.2,1317.1 2104.6,1316.4 2107.0,1315.7 2109.4,1315.1 2111.8,1314.6 2114.2,1314.2 2116.6,1313.8 2119.0,1313.6 2121.4,1313.4 2123.7,1313.4 2126.1,1313.5 2128.4,1313.6 2130.7,1313.9 2133.0,1314.3 2135.3,1314.8 2137.5,1315.4 2139.8,1316.1 2142.0,1316.9 2144.2,1317.8 2146.3,1318.7 2148.5,1319.8 2150.6,1320.9 2152.7,1322.1 2154.8,1323.3 2156.9,1324.7 2158.9,1326.1 2160.9,1327.6 2162.9,1329.1 2164.9,1330.7 2166.8,1332.3 2168.7,1334.0 2170.6,1335.7 2172.5,1337.5 2174.3,1339.3 2176.1,1341.2 2177.9,1343.1 2179.7,1345.0 2181.4,1346.9 2183.1,1348.9 2184.8,1350.9 2186.4,1352.9 2188.0,1354.9 2189.6,1357.0 2191.1,1359.0 2192.6,1361.1 2194.1,1363.2 2195.6,1365.2 2197.0,1367.3 2198.5,1369.4 2199.9,1371.5 2201.3,1373.6 2202.6,1375.7 2204.0,1377.8 2205.3,1379.9 2206.6,1382.0 2207.9,1384.2 2209.2,1386.3 2210.5,1388.4 2211.8,1390.6 2213.1,1392.7 2214.3,1394.8 2215.6,1397.0 2216.8,1399.1 2218.1,1401.2 2219.4,1403.4 2220.6,1405.5 2221.9,1407.6 2223.2,1409.7 2224.4,1411.9 2225.7,1414.0 2227.0,1416.1 2228.3,1418.2 2229.7,1420.3 2231.0,1422.4 2232.3,1424.5 2233.7,1426.6 2235.1,1428.7 2236.4,1430.7 2237.8,1432.8 2239.3,1434.9 2240.7,1436.9 2242.1,1439.0 2243.6,1441.0 2245.0,1443.0 2246.5,1445.1 2248.0,1447.1 2249.5,1449.1 2251.0,1451.1 2252.5,1453.1 2254.0,1455.1 2255.5,1457.0 2257.1,1459.0 2258.7,1461.0 2260.2,1462.9 2261.8,1464.9 2263.4,1466.8 2265.0,1468.7 2266.6,1470.6 2268.3,1472.6 2269.9,1474.4 2271.5,1476.3 2273.2,1478.2 2274.9,1480.1 2276.6,1481.9 2278.2,1483.8 2279.9,1485.6 2281.7,1487.5 2283.4,1489.3 2285.1,1491.1 2286.8,1492.9 2288.6,1494.7 2290.3,1496.4 2292.1,1498.2 2293.9,1500.0 2295.7,1501.7 2297.4,1503.4 2299.3,1505.2 2301.1,1506.9 2302.9,1508.6 2304.7,1510.2 2306.5,1511.9 2308.5,1513.5" fill="none" stroke="#FF0000" stroke-width="6" stroke-linejoin="round"/>
<text transform="translate(27.26,94.10) scale(0.9793,1)" font-size="98.41" fill="#000">(a)</text>
<text transform="translate(1222.59,95.00) scale(0.9614,1)" font-size="99.71" fill="#000">(b)</text>
<text transform="translate(637.93,303.49) scale(0.9527,1)" font-size="66.60" fill="#E600E0">ZnO/rGO (30%)</text>
<text transform="translate(638.13,707.77) scale(0.9407,1)" font-size="67.32" fill="#0033BB">ZnO/rGO (20%)</text>
<text transform="translate(638.14,1138.64) scale(0.9523,1)" font-size="66.32" fill="#33F500">ZnO/rGO (10%)</text>
<text transform="translate(811.05,1495.70) scale(0.9112,1)" font-size="69.08" fill="#FF0000">ZnO</text>
<text transform="translate(1393.53,303.79) scale(0.9430,1)" font-size="67.14" fill="#E600E0">ZnO/rGO (30%)</text>
<text transform="translate(1393.53,707.50) scale(0.9427,1)" font-size="67.16" fill="#0033BB">ZnO/rGO (20%)</text>
<text transform="translate(1393.53,1132.12) scale(0.9422,1)" font-size="67.19" fill="#33F500">ZnO/rGO (10%)</text>
<text transform="translate(1538.17,1496.30) scale(0.8978,1)" font-size="69.69" fill="#FF0000">ZnO</text>
<text transform="translate(370.72,1823.13) scale(0.9363,1)" font-size="91.34" fill="#000">Wavelength (nm)</text>
<text transform="translate(1498.82,1822.56) scale(0.9434,1)" font-size="90.16" fill="#000">Photon energy (eV)</text>
<text transform="translate(175.8,1721.9) scale(0.945,1)" font-size="62.4" text-anchor="middle">200</text>
<text transform="translate(336.8,1721.9) scale(0.945,1)" font-size="62.4" text-anchor="middle">300</text>
<text transform="translate(497.9,1721.9) scale(0.945,1)" font-size="62.4" text-anchor="middle">400</text>
<text transform="translate(658.9,1721.9) scale(0.945,1)" font-size="62.4" text-anchor="middle">500</text>
<text transform="translate(820.0,1721.9) scale(0.945,1)" font-size="62.4" text-anchor="middle">600</text>
<text transform="translate(981.0,1721.9) scale(0.945,1)" font-size="62.4" text-anchor="middle">700</text>
<text transform="translate(1142.1,1721.9) scale(0.945,1)" font-size="62.4" text-anchor="middle">800</text>
<text transform="translate(1412.5,1721.2) scale(0.945,1)" font-size="63.5" text-anchor="middle">2.6</text>
<text transform="translate(1540.5,1721.2) scale(0.945,1)" font-size="63.5" text-anchor="middle">2.8</text>
<text transform="translate(1668.5,1721.2) scale(0.945,1)" font-size="63.5" text-anchor="middle">3.0</text>
<text transform="translate(1796.5,1721.2) scale(0.945,1)" font-size="63.5" text-anchor="middle">3.2</text>
<text transform="translate(1924.5,1721.2) scale(0.945,1)" font-size="63.5" text-anchor="middle">3.4</text>
<text transform="translate(2052.5,1721.2) scale(0.945,1)" font-size="63.5" text-anchor="middle">3.6</text>
<text transform="translate(2180.5,1721.2) scale(0.945,1)" font-size="63.5" text-anchor="middle">3.8</text>
<text transform="translate(2308.5,1721.2) scale(0.945,1)" font-size="63.5" text-anchor="middle">4.0</text>
<text transform="translate(106,1284.1) rotate(-90) scale(1.0472,1)" font-size="104.70">Absorption (a.u.)</text>
<text transform="translate(1914.08,424.00) scale(0.7790,1)" font-size="61.83" font-weight="bold" fill="#E600E0">E</text>
<text transform="translate(1945.27,435.71) scale(1.0466,1)" font-size="43.15" font-weight="bold" fill="#E600E0">g</text>
<text transform="translate(1984.78,426.68) scale(1.2125,1)" font-size="62.96" font-weight="bold" fill="#E600E0">=</text>
<text transform="translate(2043.27,424.60) scale(0.9982,1)" font-size="63.48" font-weight="bold" fill="#E600E0">2</text>
<text transform="translate(2099.32,423.98) scale(1.0490,1)" font-size="62.07" font-weight="bold" fill="#E600E0">8</text>
<text transform="translate(2132.40,423.97) scale(1.0660,1)" font-size="62.54" font-weight="bold" fill="#E600E0">9</text>
<text transform="translate(2166.12,424.60) scale(1.0161,1)" font-size="63.97" font-weight="bold" fill="#E600E0">7</text>
<text transform="translate(2077.43,423.60) scale(0.9333,1)" font-size="46.88" font-weight="bold" fill="#E600E0">.</text>
<text transform="translate(1919.28,806.60) scale(0.7790,1)" font-size="61.83" font-weight="bold" fill="#0033BB">E</text>
<text transform="translate(1950.47,818.31) scale(1.0466,1)" font-size="43.15" font-weight="bold" fill="#0033BB">g</text>
<text transform="translate(1989.98,809.28) scale(1.2125,1)" font-size="62.96" font-weight="bold" fill="#0033BB">=</text>
<text transform="translate(2048.47,807.20) scale(0.9982,1)" font-size="63.48" font-weight="bold" fill="#0033BB">2</text>
<text transform="translate(2104.87,806.57) scale(1.0293,1)" font-size="62.54" font-weight="bold" fill="#0033BB">9</text>
<text transform="translate(2138.66,807.20) scale(0.9749,1)" font-size="63.97" font-weight="bold" fill="#0033BB">4</text>
<text transform="translate(2172.70,806.57) scale(1.0035,1)" font-size="62.54" font-weight="bold" fill="#0033BB">6</text>
<text transform="translate(2082.63,806.20) scale(0.9333,1)" font-size="46.88" font-weight="bold" fill="#0033BB">.</text>
<text transform="translate(1937.08,1204.40) scale(0.7790,1)" font-size="61.83" font-weight="bold" fill="#33F500">E</text>
<text transform="translate(1968.27,1216.11) scale(1.0466,1)" font-size="43.15" font-weight="bold" fill="#33F500">g</text>
<text transform="translate(2007.78,1207.08) scale(1.2125,1)" font-size="62.96" font-weight="bold" fill="#33F500">=</text>
<text transform="translate(2066.27,1205.00) scale(0.9982,1)" font-size="63.48" font-weight="bold" fill="#33F500">2</text>
<text transform="translate(2122.67,1204.37) scale(1.0293,1)" font-size="62.54" font-weight="bold" fill="#33F500">9</text>
<text transform="translate(2153.60,1205.00) scale(1.0794,1)" font-size="63.97" font-weight="bold" fill="#33F500">7</text>
<text transform="translate(2190.50,1204.37) scale(1.0035,1)" font-size="62.54" font-weight="bold" fill="#33F500">6</text>
<text transform="translate(2100.43,1204.00) scale(0.9333,1)" font-size="46.88" font-weight="bold" fill="#33F500">.</text>
<text transform="translate(1919.28,1561.50) scale(0.7790,1)" font-size="61.83" font-weight="bold" fill="#FF0000">E</text>
<text transform="translate(1950.47,1573.21) scale(1.0466,1)" font-size="43.15" font-weight="bold" fill="#FF0000">g</text>
<text transform="translate(1989.98,1564.18) scale(1.2125,1)" font-size="62.96" font-weight="bold" fill="#FF0000">=</text>
<text transform="translate(2048.52,1561.47) scale(0.9895,1)" font-size="62.54" font-weight="bold" fill="#FF0000">3</text>
<text transform="translate(2100.75,1562.10) scale(1.1830,1)" font-size="63.97" font-weight="bold" fill="#FF0000">1</text>
<text transform="translate(2138.66,1562.10) scale(0.9749,1)" font-size="63.97" font-weight="bold" fill="#FF0000">4</text>
<text transform="translate(2172.68,1561.48) scale(1.0228,1)" font-size="62.07" font-weight="bold" fill="#FF0000">8</text>
<text transform="translate(2082.63,1561.10) scale(0.9333,1)" font-size="46.88" font-weight="bold" fill="#FF0000">.</text>
<text transform="translate(1295.26,1040.22) rotate(-90) scale(1.3897,1)" font-size="93.69" font-weight="normal" font-family="Noto Serif CJK SC, serif" fill="#000">(</text>
<text transform="translate(1297.43,995.17) rotate(-90) scale(1.1937,1)" font-size="106.87" font-weight="bold" fill="#000">α</text>
<text transform="translate(1297.50,923.81) rotate(-90) scale(1.0381,1)" font-size="108.12" font-weight="bold" fill="#000">h</text>
<text transform="translate(1297.40,857.30) rotate(-90) scale(1.0794,1)" font-size="110.32" font-weight="bold" fill="#000">ν</text>
<text transform="translate(1295.26,801.75) rotate(-90) scale(1.4769,1)" font-size="93.69" font-weight="normal" font-family="Noto Serif CJK SC, serif" fill="#000">)</text>
<text transform="translate(1258.70,754.36) rotate(-90) scale(1.1136,1)" font-size="79.85" font-weight="bold" fill="#000">2</text>
</svg>
</body></html>
